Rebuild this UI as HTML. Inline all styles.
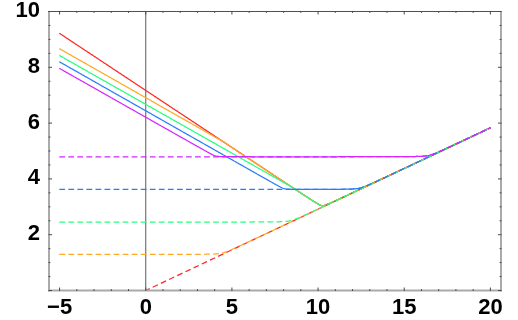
<!DOCTYPE html>
<html><head><meta charset="utf-8"><title>plot</title>
<style>
html,body{margin:0;padding:0;background:#fff;}
body{width:518px;height:320px;overflow:hidden;position:relative;}
svg{filter:blur(0.45px);}
svg text{font-family:"Liberation Sans",sans-serif;font-weight:bold;fill:#000;}
</style></head><body>
<svg width="518" height="320" viewBox="0 0 518 320" style="position:absolute;left:0;top:0">
<rect width="518" height="320" fill="#fff"/>
<clipPath id="c"><rect x="49.0" y="11.5" width="452.0" height="278.4"/></clipPath>
<line x1="145.75" y1="11.50" x2="145.75" y2="290.50" stroke="#5a5a5a" stroke-width="1"/>
<g clip-path="url(#c)" fill="none" stroke-width="1.25" stroke-linejoin="round">
<path d="M59.3 33.19L60.0 33.64L60.6 34.08L61.3 34.53L62.0 34.98L62.7 35.42L63.3 35.87L64.0 36.32L64.7 36.76L65.4 37.21L66.0 37.66L66.7 38.10L67.4 38.55L68.1 39.00L68.7 39.44L69.4 39.89L70.1 40.34L70.8 40.78L71.4 41.23L72.1 41.68L72.8 42.12L73.5 42.57L74.1 43.02L74.8 43.46L75.5 43.91L76.2 44.36L76.8 44.80L77.5 45.25L78.2 45.69L78.9 46.14L79.5 46.59L80.2 47.03L80.9 47.48L81.6 47.93L82.2 48.37L82.9 48.82L83.6 49.27L84.3 49.71L84.9 50.16L85.6 50.61L86.3 51.05L87.0 51.50L87.6 51.95L88.3 52.39L89.0 52.84L89.7 53.29L90.3 53.73L91.0 54.18L91.7 54.63L92.4 55.07L93.0 55.52L93.7 55.97L94.4 56.41L95.1 56.86L95.7 57.31L96.4 57.75L97.1 58.20L97.8 58.65L98.4 59.09L99.1 59.54L99.8 59.99L100.5 60.43L101.1 60.88L101.8 61.33L102.5 61.77L103.2 62.22L103.8 62.67L104.5 63.11L105.2 63.56L105.9 64.01L106.5 64.45L107.2 64.90L107.9 65.35L108.5 65.79L109.2 66.24L109.9 66.68L110.6 67.13L111.2 67.58L111.9 68.02L112.6 68.47L113.3 68.92L113.9 69.36L114.6 69.81L115.3 70.26L116.0 70.70L116.6 71.15L117.3 71.60L118.0 72.04L118.7 72.49L119.3 72.94L120.0 73.38L120.7 73.83L121.4 74.28L122.0 74.72L122.7 75.17L123.4 75.62L124.1 76.06L124.7 76.51L125.4 76.96L126.1 77.40L126.8 77.85L127.4 78.30L128.1 78.74L128.8 79.19L129.5 79.64L130.1 80.08L130.8 80.53L131.5 80.98L132.2 81.42L132.8 81.87L133.5 82.32L134.2 82.76L134.9 83.21L135.5 83.66L136.2 84.10L136.9 84.55L137.6 85.00L138.2 85.44L138.9 85.89L139.6 86.33L140.3 86.78L140.9 87.23L141.6 87.67L142.3 88.12L143.0 88.57L143.6 89.01L144.3 89.46L145.0 89.91L145.7 90.35L146.3 90.80L147.0 91.25L147.7 91.69L148.4 92.14L149.0 92.59L149.7 93.03L150.4 93.48L151.1 93.93L151.7 94.37L152.4 94.82L153.1 95.27L153.8 95.71L154.4 96.16L155.1 96.61L155.8 97.05L156.4 97.50L157.1 97.95L157.8 98.39L158.5 98.84L159.1 99.29L159.8 99.73L160.5 100.18L161.2 100.63L161.8 101.07L162.5 101.52L163.2 101.96L163.9 102.41L164.5 102.86L165.2 103.30L165.9 103.75L166.6 104.20L167.2 104.64L167.9 105.09L168.6 105.54L169.3 105.98L169.9 106.43L170.6 106.88L171.3 107.32L172.0 107.77L172.6 108.22L173.3 108.66L174.0 109.11L174.7 109.56L175.3 110.00L176.0 110.45L176.7 110.90L177.4 111.34L178.0 111.79L178.7 112.24L179.4 112.68L180.1 113.13L180.7 113.58L181.4 114.02L182.1 114.47L182.8 114.91L183.4 115.36L184.1 115.81L184.8 116.25L185.5 116.70L186.1 117.15L186.8 117.59L187.5 118.04L188.2 118.49L188.8 118.93L189.5 119.38L190.2 119.83L190.9 120.27L191.5 120.72L192.2 121.17L192.9 121.61L193.6 122.06L194.2 122.51L194.9 122.95L195.6 123.40L196.3 123.85L196.9 124.29L197.6 124.74L198.3 125.18L199.0 125.63L199.6 126.08L200.3 126.52L201.0 126.97L201.7 127.42L202.3 127.86L203.0 128.31L203.7 128.76L204.3 129.20L205.0 129.65L205.7 130.10L206.4 130.54L207.0 130.99L207.7 131.44L208.4 131.88L209.1 132.33L209.7 132.78L210.4 133.22L211.1 133.67L211.8 134.11L212.4 134.56L213.1 135.01L213.8 135.45L214.5 135.90L215.1 136.35L215.8 136.79L216.5 137.24L217.2 137.69L217.8 138.13L218.5 138.58L219.2 139.03L219.9 139.47L220.5 139.92L221.2 140.37L221.9 140.81L222.6 141.26L223.2 141.71L223.9 142.15L224.6 142.60L225.3 143.04L225.9 143.49L226.6 143.94L227.3 144.38L228.0 144.83L228.6 145.28L229.3 145.72L230.0 146.17L230.7 146.62L231.3 147.06L232.0 147.51L232.7 147.96L233.4 148.40L234.0 148.85L234.7 149.29L235.4 149.74L236.1 150.19L236.7 150.63L237.4 151.08L238.1 151.53L238.8 151.97L239.4 152.42L240.1 152.87L240.8 153.31L241.5 153.76L242.1 154.20L242.8 154.65L243.5 155.10L244.2 155.54L244.8 155.99L245.5 156.44L246.2 156.88L246.9 157.33L247.5 157.78L248.2 158.22L248.9 158.67L249.6 159.11L250.2 159.56L250.9 160.01L251.6 160.45L252.2 160.90L252.9 161.35L253.6 161.79L254.3 162.24L254.9 162.69L255.6 163.13L256.3 163.58L257.0 164.02L257.6 164.47L258.3 164.92L259.0 165.36L259.7 165.81L260.3 166.26L261.0 166.70L261.7 167.15L262.4 167.59L263.0 168.04L263.7 168.49L264.4 168.93L265.1 169.38L265.7 169.82L266.4 170.27L267.1 170.72L267.8 171.16L268.4 171.61L269.1 172.06L269.8 172.50L270.5 172.95L271.1 173.39L271.8 173.84L272.5 174.29L273.2 174.73L273.8 175.18L274.5 175.62L275.2 176.07L275.9 176.52L276.5 176.96L277.2 177.41L277.9 177.85L278.6 178.30L279.2 178.74L279.9 179.19L280.6 179.64L281.3 180.08L281.9 180.53L282.6 180.97L283.3 181.42L284.0 181.86L284.6 182.31L285.3 182.76L286.0 183.20L286.7 183.65L287.3 184.09L288.0 184.54L288.7 184.98L289.4 185.43L290.0 185.87L290.7 186.32L291.4 186.76L292.1 187.21L292.7 187.65L293.4 188.10L294.1 188.54L294.8 188.99L295.4 189.43L296.1 189.88L296.8 190.32L297.5 190.76L298.1 191.21L298.8 191.65L299.5 192.10L300.1 192.54L300.8 192.98L301.5 193.43L302.2 193.87L302.8 194.31L303.5 194.75L304.2 195.20L304.9 195.64L305.5 196.08L306.2 196.52L306.9 196.96L307.6 197.40L308.2 197.84L308.9 198.28L309.6 198.72L310.3 199.15L310.9 199.59L311.6 200.02L312.3 200.46L313.0 200.89L313.6 201.32L314.3 201.74L315.0 202.16L315.7 202.58L316.3 202.99L317.0 203.40L317.7 203.79L318.4 204.17L319.0 204.53L319.7 204.86L320.4 205.16L321.1 205.39L321.7 205.56L322.4 205.63L323.1 205.62L323.8 205.53L324.4 205.38L325.1 205.18L325.8 204.96L326.5 204.71L327.1 204.45L327.8 204.17L328.5 203.89L329.2 203.60L329.8 203.31L330.5 203.02L331.2 202.72L331.9 202.41L332.5 202.11L333.2 201.80L333.9 201.50L334.6 201.19L335.2 200.88L335.9 200.57L336.6 200.26L337.3 199.95L337.9 199.63L338.6 199.32L339.3 199.01L340.0 198.70L340.6 198.38L341.3 198.07L342.0 197.75L342.7 197.44L343.3 197.12L344.0 196.81L344.7 196.49L345.4 196.18L346.0 195.86L346.7 195.55L347.4 195.23L348.0 194.91L348.7 194.60L349.4 194.28L350.1 193.97L350.7 193.65L351.4 193.33L352.1 193.02L352.8 192.70L353.4 192.38L354.1 192.07L354.8 191.75L355.5 191.43L356.1 191.12L356.8 190.80L357.5 190.48L358.2 190.16L358.8 189.85L359.5 189.53L360.2 189.21L360.9 188.90L361.5 188.58L362.2 188.26L362.9 187.94L363.6 187.63L364.2 187.31L364.9 186.99L365.6 186.67L366.3 186.36L366.9 186.04L367.6 185.72L368.3 185.40L369.0 185.08L369.6 184.77L370.3 184.45L371.0 184.13L371.7 183.81L372.3 183.50L373.0 183.18L373.7 182.86L374.4 182.54L375.0 182.23L375.7 181.91L376.4 181.59L377.1 181.27L377.7 180.95L378.4 180.64L379.1 180.32L379.8 180.00L380.4 179.68L381.1 179.36L381.8 179.05L382.5 178.73L383.1 178.41L383.8 178.09L384.5 177.77L385.2 177.46L385.8 177.14L386.5 176.82L387.2 176.50L387.9 176.18L388.5 175.87L389.2 175.55L389.9 175.23L390.6 174.91L391.2 174.59L391.9 174.28L392.6 173.96L393.3 173.64L393.9 173.32L394.6 173.00L395.3 172.69L395.9 172.37L396.6 172.05L397.3 171.73L398.0 171.41L398.6 171.10L399.3 170.78L400.0 170.46L400.7 170.14L401.3 169.82L402.0 169.51L402.7 169.19L403.4 168.87L404.0 168.55L404.7 168.23L405.4 167.91L406.1 167.60L406.7 167.28L407.4 166.96L408.1 166.64L408.8 166.32L409.4 166.01L410.1 165.69L410.8 165.37L411.5 165.05L412.1 164.73L412.8 164.41L413.5 164.10L414.2 163.78L414.8 163.46L415.5 163.14L416.2 162.82L416.9 162.51L417.5 162.19L418.2 161.87L418.9 161.55L419.6 161.23L420.2 160.91L420.9 160.60L421.6 160.28L422.3 159.96L422.9 159.64L423.6 159.32L424.3 159.01L425.0 158.69L425.6 158.37L426.3 158.05L427.0 157.73L427.7 157.41L428.3 157.10L429.0 156.78L429.7 156.46L430.4 156.14L431.0 155.82L431.7 155.50L432.4 155.19L433.1 154.87L433.7 154.55L434.4 154.23L435.1 153.91L435.8 153.60L436.4 153.28L437.1 152.96L437.8 152.64L438.5 152.32L439.1 152.00L439.8 151.69L440.5 151.37L441.2 151.05L441.8 150.73L442.5 150.41L443.2 150.09L443.8 149.78L444.5 149.46L445.2 149.14L445.9 148.82L446.5 148.50L447.2 148.18L447.9 147.87L448.6 147.55L449.2 147.23L449.9 146.91L450.6 146.59L451.3 146.27L451.9 145.96L452.6 145.64L453.3 145.32L454.0 145.00L454.6 144.68L455.3 144.37L456.0 144.05L456.7 143.73L457.3 143.41L458.0 143.09L458.7 142.77L459.4 142.46L460.0 142.14L460.7 141.82L461.4 141.50L462.1 141.18L462.7 140.86L463.4 140.55L464.1 140.23L464.8 139.91L465.4 139.59L466.1 139.27L466.8 138.95L467.5 138.64L468.1 138.32L468.8 138.00L469.5 137.68L470.2 137.36L470.8 137.04L471.5 136.73L472.2 136.41L472.9 136.09L473.5 135.77L474.2 135.45L474.9 135.13L475.6 134.82L476.2 134.50L476.9 134.18L477.6 133.86L478.3 133.54L478.9 133.22L479.6 132.91L480.3 132.59L481.0 132.27L481.6 131.95L482.3 131.63L483.0 131.31L483.7 131.00L484.3 130.68L485.0 130.36L485.7 130.04L486.4 129.72L487.0 129.40L487.7 129.09L488.4 128.77L489.1 128.45L489.7 128.13L490.4 127.81" stroke="#ff2626"/>
<path d="M59.3 48.59L60.0 48.97L60.6 49.35L61.3 49.74L62.0 50.12L62.7 50.50L63.3 50.89L64.0 51.27L64.7 51.65L65.4 52.04L66.0 52.42L66.7 52.80L67.4 53.19L68.1 53.57L68.7 53.95L69.4 54.34L70.1 54.72L70.8 55.10L71.4 55.49L72.1 55.87L72.8 56.25L73.5 56.63L74.1 57.02L74.8 57.40L75.5 57.78L76.2 58.17L76.8 58.55L77.5 58.93L78.2 59.32L78.9 59.70L79.5 60.08L80.2 60.47L80.9 60.85L81.6 61.23L82.2 61.62L82.9 62.00L83.6 62.38L84.3 62.77L84.9 63.15L85.6 63.53L86.3 63.92L87.0 64.30L87.6 64.68L88.3 65.06L89.0 65.45L89.7 65.83L90.3 66.21L91.0 66.60L91.7 66.98L92.4 67.36L93.0 67.75L93.7 68.13L94.4 68.51L95.1 68.90L95.7 69.28L96.4 69.66L97.1 70.05L97.8 70.43L98.4 70.81L99.1 71.20L99.8 71.58L100.5 71.96L101.1 72.35L101.8 72.73L102.5 73.11L103.2 73.49L103.8 73.88L104.5 74.26L105.2 74.64L105.9 75.03L106.5 75.41L107.2 75.79L107.9 76.18L108.5 76.56L109.2 76.94L109.9 77.33L110.6 77.71L111.2 78.09L111.9 78.48L112.6 78.86L113.3 79.24L113.9 79.63L114.6 80.01L115.3 80.39L116.0 80.78L116.6 81.16L117.3 81.54L118.0 81.92L118.7 82.31L119.3 82.69L120.0 83.07L120.7 83.46L121.4 83.84L122.0 84.22L122.7 84.61L123.4 84.99L124.1 85.37L124.7 85.76L125.4 86.14L126.1 86.52L126.8 86.91L127.4 87.29L128.1 87.67L128.8 88.06L129.5 88.44L130.1 88.82L130.8 89.20L131.5 89.59L132.2 89.97L132.8 90.35L133.5 90.74L134.2 91.12L134.9 91.50L135.5 91.89L136.2 92.27L136.9 92.65L137.6 93.04L138.2 93.42L138.9 93.80L139.6 94.19L140.3 94.57L140.9 94.95L141.6 95.34L142.3 95.72L143.0 96.10L143.6 96.49L144.3 96.87L145.0 97.25L145.7 97.63L146.3 98.02L147.0 98.40L147.7 98.78L148.4 99.17L149.0 99.55L149.7 99.93L150.4 100.32L151.1 100.70L151.7 101.08L152.4 101.47L153.1 101.85L153.8 102.23L154.4 102.62L155.1 103.00L155.8 103.38L156.4 103.77L157.1 104.15L157.8 104.53L158.5 104.91L159.1 105.30L159.8 105.68L160.5 106.06L161.2 106.45L161.8 106.83L162.5 107.21L163.2 107.60L163.9 107.98L164.5 108.36L165.2 108.75L165.9 109.13L166.6 109.51L167.2 109.90L167.9 110.28L168.6 110.66L169.3 111.05L169.9 111.43L170.6 111.81L171.3 112.20L172.0 112.58L172.6 112.96L173.3 113.34L174.0 113.73L174.7 114.11L175.3 114.49L176.0 114.88L176.7 115.26L177.4 115.64L178.0 116.03L178.7 116.41L179.4 116.79L180.1 117.18L180.7 117.56L181.4 117.94L182.1 118.33L182.8 118.71L183.4 119.09L184.1 119.48L184.8 119.86L185.5 120.24L186.1 120.63L186.8 121.01L187.5 121.39L188.2 121.77L188.8 122.16L189.5 122.54L190.2 122.92L190.9 123.31L191.5 123.69L192.2 124.07L192.9 124.46L193.6 124.84L194.2 125.22L194.9 125.61L195.6 125.99L196.3 126.37L196.9 126.76L197.6 127.14L198.3 127.52L199.0 127.91L199.6 128.29L200.3 128.67L201.0 129.06L201.7 129.44L202.3 129.82L203.0 130.21L203.7 130.59L204.3 130.97L205.0 131.36L205.7 131.74L206.4 132.12L207.0 132.51L207.7 132.89L208.4 133.27L209.1 133.66L209.7 134.04L210.4 134.42L211.1 134.81L211.8 135.19L212.4 135.57L213.1 135.96L213.8 136.34L214.5 136.73L215.1 137.11L215.8 137.49L216.5 137.88L217.2 138.26L217.8 138.65L218.5 139.03L219.2 139.42L219.9 139.81L220.5 140.20L221.2 140.59L221.9 140.99L222.6 141.39L223.2 141.80L223.9 142.22L224.6 142.65L225.3 143.09L225.9 143.52L226.6 143.97L227.3 144.41L228.0 144.85L228.6 145.30L229.3 145.74L230.0 146.18L230.7 146.63L231.3 147.08L232.0 147.52L232.7 147.97L233.4 148.41L234.0 148.86L234.7 149.30L235.4 149.75L236.1 150.20L236.7 150.64L237.4 151.09L238.1 151.53L238.8 151.98L239.4 152.43L240.1 152.87L240.8 153.32L241.5 153.76L242.1 154.21L242.8 154.66L243.5 155.10L244.2 155.55L244.8 156.00L245.5 156.44L246.2 156.89L246.9 157.33L247.5 157.78L248.2 158.23L248.9 158.67L249.6 159.12L250.2 159.57L250.9 160.01L251.6 160.46L252.2 160.90L252.9 161.35L253.6 161.80L254.3 162.24L254.9 162.69L255.6 163.13L256.3 163.58L257.0 164.03L257.6 164.47L258.3 164.92L259.0 165.37L259.7 165.81L260.3 166.26L261.0 166.70L261.7 167.15L262.4 167.60L263.0 168.04L263.7 168.49L264.4 168.94L265.1 169.38L265.7 169.83L266.4 170.27L267.1 170.72L267.8 171.17L268.4 171.61L269.1 172.06L269.8 172.50L270.5 172.95L271.1 173.40L271.8 173.84L272.5 174.29L273.2 174.73L273.8 175.18L274.5 175.63L275.2 176.07L275.9 176.52L276.5 176.96L277.2 177.41L277.9 177.85L278.6 178.30L279.2 178.75L279.9 179.19L280.6 179.64L281.3 180.08L281.9 180.53L282.6 180.97L283.3 181.42L284.0 181.87L284.6 182.31L285.3 182.76L286.0 183.20L286.7 183.65L287.3 184.09L288.0 184.54L288.7 184.98L289.4 185.43L290.0 185.87L290.7 186.32L291.4 186.76L292.1 187.21L292.7 187.65L293.4 188.10L294.1 188.54L294.8 188.99L295.4 189.43L296.1 189.88L296.8 190.32L297.5 190.77L298.1 191.21L298.8 191.65L299.5 192.10L300.1 192.54L300.8 192.98L301.5 193.43L302.2 193.87L302.8 194.31L303.5 194.76L304.2 195.20L304.9 195.64L305.5 196.08L306.2 196.52L306.9 196.96L307.6 197.40L308.2 197.84L308.9 198.28L309.6 198.72L310.3 199.16L310.9 199.59L311.6 200.03L312.3 200.46L313.0 200.89L313.6 201.32L314.3 201.74L315.0 202.16L315.7 202.58L316.3 202.99L317.0 203.40L317.7 203.79L318.4 204.17L319.0 204.53L319.7 204.86L320.4 205.15L321.1 205.39L321.7 205.55L322.4 205.62L323.1 205.61L323.8 205.52L324.4 205.36L325.1 205.17L325.8 204.94L326.5 204.69L327.1 204.43L327.8 204.16L328.5 203.88L329.2 203.59L329.8 203.30L330.5 203.00L331.2 202.70L331.9 202.40L332.5 202.09L333.2 201.79L333.9 201.48L334.6 201.17L335.2 200.86L335.9 200.55L336.6 200.24L337.3 199.93L337.9 199.62L338.6 199.31L339.3 199.00L340.0 198.68L340.6 198.37L341.3 198.05L342.0 197.74L342.7 197.43L343.3 197.11L344.0 196.80L344.7 196.48L345.4 196.17L346.0 195.85L346.7 195.53L347.4 195.22L348.0 194.90L348.7 194.59L349.4 194.27L350.1 193.95L350.7 193.64L351.4 193.32L352.1 193.00L352.8 192.69L353.4 192.37L354.1 192.05L354.8 191.74L355.5 191.42L356.1 191.10L356.8 190.79L357.5 190.47L358.2 190.15L358.8 189.84L359.5 189.52L360.2 189.20L360.9 188.88L361.5 188.57L362.2 188.25L362.9 187.93L363.6 187.62L364.2 187.30L364.9 186.98L365.6 186.66L366.3 186.35L366.9 186.03L367.6 185.71L368.3 185.39L369.0 185.08L369.6 184.76L370.3 184.44L371.0 184.12L371.7 183.80L372.3 183.49L373.0 183.17L373.7 182.85L374.4 182.53L375.0 182.22L375.7 181.90L376.4 181.58L377.1 181.26L377.7 180.95L378.4 180.63L379.1 180.31L379.8 179.99L380.4 179.67L381.1 179.36L381.8 179.04L382.5 178.72L383.1 178.40L383.8 178.08L384.5 177.77L385.2 177.45L385.8 177.13L386.5 176.81L387.2 176.49L387.9 176.18L388.5 175.86L389.2 175.54L389.9 175.22L390.6 174.91L391.2 174.59L391.9 174.27L392.6 173.95L393.3 173.63L393.9 173.32L394.6 173.00L395.3 172.68L395.9 172.36L396.6 172.04L397.3 171.72L398.0 171.41L398.6 171.09L399.3 170.77L400.0 170.45L400.7 170.13L401.3 169.82L402.0 169.50L402.7 169.18L403.4 168.86L404.0 168.54L404.7 168.23L405.4 167.91L406.1 167.59L406.7 167.27L407.4 166.95L408.1 166.64L408.8 166.32L409.4 166.00L410.1 165.68L410.8 165.36L411.5 165.04L412.1 164.73L412.8 164.41L413.5 164.09L414.2 163.77L414.8 163.45L415.5 163.14L416.2 162.82L416.9 162.50L417.5 162.18L418.2 161.86L418.9 161.55L419.6 161.23L420.2 160.91L420.9 160.59L421.6 160.27L422.3 159.95L422.9 159.64L423.6 159.32L424.3 159.00L425.0 158.68L425.6 158.36L426.3 158.05L427.0 157.73L427.7 157.41L428.3 157.09L429.0 156.77L429.7 156.45L430.4 156.14L431.0 155.82L431.7 155.50L432.4 155.18L433.1 154.86L433.7 154.54L434.4 154.23L435.1 153.91L435.8 153.59L436.4 153.27L437.1 152.95L437.8 152.64L438.5 152.32L439.1 152.00L439.8 151.68L440.5 151.36L441.2 151.04L441.8 150.73L442.5 150.41L443.2 150.09L443.8 149.77L444.5 149.45L445.2 149.13L445.9 148.82L446.5 148.50L447.2 148.18L447.9 147.86L448.6 147.54L449.2 147.23L449.9 146.91L450.6 146.59L451.3 146.27L451.9 145.95L452.6 145.63L453.3 145.32L454.0 145.00L454.6 144.68L455.3 144.36L456.0 144.04L456.7 143.72L457.3 143.41L458.0 143.09L458.7 142.77L459.4 142.45L460.0 142.13L460.7 141.81L461.4 141.50L462.1 141.18L462.7 140.86L463.4 140.54L464.1 140.22L464.8 139.90L465.4 139.59L466.1 139.27L466.8 138.95L467.5 138.63L468.1 138.31L468.8 138.00L469.5 137.68L470.2 137.36L470.8 137.04L471.5 136.72L472.2 136.40L472.9 136.09L473.5 135.77L474.2 135.45L474.9 135.13L475.6 134.81L476.2 134.49L476.9 134.18L477.6 133.86L478.3 133.54L478.9 133.22L479.6 132.90L480.3 132.58L481.0 132.27L481.6 131.95L482.3 131.63L483.0 131.31L483.7 130.99L484.3 130.67L485.0 130.36L485.7 130.04L486.4 129.72L487.0 129.40L487.7 129.08L488.4 128.76L489.1 128.45L489.7 128.13L490.4 127.81" stroke="#ffa826"/>
<path d="M59.3 55.39L60.0 55.77L60.6 56.15L61.3 56.53L62.0 56.91L62.7 57.30L63.3 57.68L64.0 58.06L64.7 58.44L65.4 58.82L66.0 59.21L66.7 59.59L67.4 59.97L68.1 60.35L68.7 60.74L69.4 61.12L70.1 61.50L70.8 61.88L71.4 62.26L72.1 62.65L72.8 63.03L73.5 63.41L74.1 63.79L74.8 64.17L75.5 64.56L76.2 64.94L76.8 65.32L77.5 65.70L78.2 66.09L78.9 66.47L79.5 66.85L80.2 67.23L80.9 67.61L81.6 68.00L82.2 68.38L82.9 68.76L83.6 69.14L84.3 69.52L84.9 69.91L85.6 70.29L86.3 70.67L87.0 71.05L87.6 71.44L88.3 71.82L89.0 72.20L89.7 72.58L90.3 72.96L91.0 73.35L91.7 73.73L92.4 74.11L93.0 74.49L93.7 74.87L94.4 75.26L95.1 75.64L95.7 76.02L96.4 76.40L97.1 76.79L97.8 77.17L98.4 77.55L99.1 77.93L99.8 78.31L100.5 78.70L101.1 79.08L101.8 79.46L102.5 79.84L103.2 80.22L103.8 80.61L104.5 80.99L105.2 81.37L105.9 81.75L106.5 82.14L107.2 82.52L107.9 82.90L108.5 83.28L109.2 83.66L109.9 84.05L110.6 84.43L111.2 84.81L111.9 85.19L112.6 85.57L113.3 85.96L113.9 86.34L114.6 86.72L115.3 87.10L116.0 87.49L116.6 87.87L117.3 88.25L118.0 88.63L118.7 89.01L119.3 89.40L120.0 89.78L120.7 90.16L121.4 90.54L122.0 90.92L122.7 91.31L123.4 91.69L124.1 92.07L124.7 92.45L125.4 92.84L126.1 93.22L126.8 93.60L127.4 93.98L128.1 94.36L128.8 94.75L129.5 95.13L130.1 95.51L130.8 95.89L131.5 96.27L132.2 96.66L132.8 97.04L133.5 97.42L134.2 97.80L134.9 98.19L135.5 98.57L136.2 98.95L136.9 99.33L137.6 99.71L138.2 100.10L138.9 100.48L139.6 100.86L140.3 101.24L140.9 101.62L141.6 102.01L142.3 102.39L143.0 102.77L143.6 103.15L144.3 103.53L145.0 103.92L145.7 104.30L146.3 104.68L147.0 105.06L147.7 105.45L148.4 105.83L149.0 106.21L149.7 106.59L150.4 106.97L151.1 107.36L151.7 107.74L152.4 108.12L153.1 108.50L153.8 108.88L154.4 109.27L155.1 109.65L155.8 110.03L156.4 110.41L157.1 110.80L157.8 111.18L158.5 111.56L159.1 111.94L159.8 112.32L160.5 112.71L161.2 113.09L161.8 113.47L162.5 113.85L163.2 114.23L163.9 114.62L164.5 115.00L165.2 115.38L165.9 115.76L166.6 116.14L167.2 116.53L167.9 116.91L168.6 117.29L169.3 117.67L169.9 118.06L170.6 118.44L171.3 118.82L172.0 119.20L172.6 119.58L173.3 119.97L174.0 120.35L174.7 120.73L175.3 121.11L176.0 121.49L176.7 121.88L177.4 122.26L178.0 122.64L178.7 123.02L179.4 123.40L180.1 123.79L180.7 124.17L181.4 124.55L182.1 124.93L182.8 125.31L183.4 125.70L184.1 126.08L184.8 126.46L185.5 126.84L186.1 127.23L186.8 127.61L187.5 127.99L188.2 128.37L188.8 128.75L189.5 129.14L190.2 129.52L190.9 129.90L191.5 130.28L192.2 130.66L192.9 131.05L193.6 131.43L194.2 131.81L194.9 132.19L195.6 132.57L196.3 132.96L196.9 133.34L197.6 133.72L198.3 134.10L199.0 134.48L199.6 134.87L200.3 135.25L201.0 135.63L201.7 136.01L202.3 136.40L203.0 136.78L203.7 137.16L204.3 137.54L205.0 137.92L205.7 138.31L206.4 138.69L207.0 139.07L207.7 139.45L208.4 139.83L209.1 140.22L209.7 140.60L210.4 140.98L211.1 141.36L211.8 141.74L212.4 142.13L213.1 142.51L213.8 142.89L214.5 143.27L215.1 143.65L215.8 144.04L216.5 144.42L217.2 144.80L217.8 145.18L218.5 145.56L219.2 145.95L219.9 146.33L220.5 146.71L221.2 147.09L221.9 147.47L222.6 147.86L223.2 148.24L223.9 148.62L224.6 149.00L225.3 149.38L225.9 149.77L226.6 150.15L227.3 150.53L228.0 150.91L228.6 151.29L229.3 151.68L230.0 152.06L230.7 152.44L231.3 152.82L232.0 153.20L232.7 153.59L233.4 153.97L234.0 154.35L234.7 154.73L235.4 155.11L236.1 155.50L236.7 155.88L237.4 156.26L238.1 156.64L238.8 157.02L239.4 157.41L240.1 157.79L240.8 158.17L241.5 158.55L242.1 158.93L242.8 159.32L243.5 159.70L244.2 160.08L244.8 160.46L245.5 160.84L246.2 161.23L246.9 161.61L247.5 161.99L248.2 162.37L248.9 162.75L249.6 163.14L250.2 163.52L250.9 163.90L251.6 164.28L252.2 164.66L252.9 165.05L253.6 165.43L254.3 165.81L254.9 166.19L255.6 166.57L256.3 166.96L257.0 167.34L257.6 167.72L258.3 168.10L259.0 168.48L259.7 168.86L260.3 169.25L261.0 169.63L261.7 170.01L262.4 170.39L263.0 170.77L263.7 171.16L264.4 171.54L265.1 171.92L265.7 172.30L266.4 172.68L267.1 173.07L267.8 173.45L268.4 173.83L269.1 174.21L269.8 174.59L270.5 174.98L271.1 175.36L271.8 175.74L272.5 176.12L273.2 176.50L273.8 176.88L274.5 177.27L275.2 177.65L275.9 178.03L276.5 178.41L277.2 178.79L277.9 179.18L278.6 179.56L279.2 179.94L279.9 180.32L280.6 180.70L281.3 181.09L281.9 181.47L282.6 181.85L283.3 182.23L284.0 182.62L284.6 183.00L285.3 183.38L286.0 183.76L286.7 184.15L287.3 184.53L288.0 184.92L288.7 185.30L289.4 185.69L290.0 186.08L290.7 186.48L291.4 186.88L292.1 187.29L292.7 187.71L293.4 188.14L294.1 188.58L294.8 189.02L295.4 189.46L296.1 189.90L296.8 190.34L297.5 190.78L298.1 191.22L298.8 191.67L299.5 192.11L300.1 192.55L300.8 192.99L301.5 193.44L302.2 193.88L302.8 194.32L303.5 194.76L304.2 195.20L304.9 195.65L305.5 196.09L306.2 196.53L306.9 196.97L307.6 197.41L308.2 197.85L308.9 198.28L309.6 198.72L310.3 199.16L310.9 199.59L311.6 200.03L312.3 200.46L313.0 200.89L313.6 201.32L314.3 201.74L315.0 202.16L315.7 202.58L316.3 202.99L317.0 203.39L317.7 203.79L318.4 204.16L319.0 204.52L319.7 204.85L320.4 205.13L321.1 205.36L321.7 205.51L322.4 205.58L323.1 205.55L323.8 205.45L324.4 205.30L325.1 205.10L325.8 204.87L326.5 204.63L327.1 204.36L327.8 204.09L328.5 203.81L329.2 203.52L329.8 203.23L330.5 202.94L331.2 202.64L331.9 202.34L332.5 202.03L333.2 201.73L333.9 201.42L334.6 201.12L335.2 200.81L335.9 200.50L336.6 200.19L337.3 199.88L337.9 199.57L338.6 199.26L339.3 198.95L340.0 198.63L340.6 198.32L341.3 198.01L342.0 197.69L342.7 197.38L343.3 197.07L344.0 196.75L344.7 196.44L345.4 196.12L346.0 195.81L346.7 195.49L347.4 195.18L348.0 194.86L348.7 194.55L349.4 194.23L350.1 193.92L350.7 193.60L351.4 193.29L352.1 192.97L352.8 192.65L353.4 192.34L354.1 192.02L354.8 191.70L355.5 191.39L356.1 191.07L356.8 190.76L357.5 190.44L358.2 190.12L358.8 189.81L359.5 189.49L360.2 189.17L360.9 188.86L361.5 188.54L362.2 188.22L362.9 187.90L363.6 187.59L364.2 187.27L364.9 186.95L365.6 186.64L366.3 186.32L366.9 186.00L367.6 185.69L368.3 185.37L369.0 185.05L369.6 184.73L370.3 184.42L371.0 184.10L371.7 183.78L372.3 183.46L373.0 183.15L373.7 182.83L374.4 182.51L375.0 182.19L375.7 181.88L376.4 181.56L377.1 181.24L377.7 180.92L378.4 180.61L379.1 180.29L379.8 179.97L380.4 179.65L381.1 179.34L381.8 179.02L382.5 178.70L383.1 178.38L383.8 178.07L384.5 177.75L385.2 177.43L385.8 177.11L386.5 176.79L387.2 176.48L387.9 176.16L388.5 175.84L389.2 175.52L389.9 175.21L390.6 174.89L391.2 174.57L391.9 174.25L392.6 173.93L393.3 173.62L393.9 173.30L394.6 172.98L395.3 172.66L395.9 172.35L396.6 172.03L397.3 171.71L398.0 171.39L398.6 171.07L399.3 170.76L400.0 170.44L400.7 170.12L401.3 169.80L402.0 169.48L402.7 169.17L403.4 168.85L404.0 168.53L404.7 168.21L405.4 167.89L406.1 167.58L406.7 167.26L407.4 166.94L408.1 166.62L408.8 166.30L409.4 165.99L410.1 165.67L410.8 165.35L411.5 165.03L412.1 164.71L412.8 164.40L413.5 164.08L414.2 163.76L414.8 163.44L415.5 163.12L416.2 162.81L416.9 162.49L417.5 162.17L418.2 161.85L418.9 161.53L419.6 161.22L420.2 160.90L420.9 160.58L421.6 160.26L422.3 159.94L422.9 159.63L423.6 159.31L424.3 158.99L425.0 158.67L425.6 158.35L426.3 158.03L427.0 157.72L427.7 157.40L428.3 157.08L429.0 156.76L429.7 156.44L430.4 156.13L431.0 155.81L431.7 155.49L432.4 155.17L433.1 154.85L433.7 154.54L434.4 154.22L435.1 153.90L435.8 153.58L436.4 153.26L437.1 152.94L437.8 152.63L438.5 152.31L439.1 151.99L439.8 151.67L440.5 151.35L441.2 151.04L441.8 150.72L442.5 150.40L443.2 150.08L443.8 149.76L444.5 149.44L445.2 149.13L445.9 148.81L446.5 148.49L447.2 148.17L447.9 147.85L448.6 147.54L449.2 147.22L449.9 146.90L450.6 146.58L451.3 146.26L451.9 145.94L452.6 145.63L453.3 145.31L454.0 144.99L454.6 144.67L455.3 144.35L456.0 144.04L456.7 143.72L457.3 143.40L458.0 143.08L458.7 142.76L459.4 142.44L460.0 142.13L460.7 141.81L461.4 141.49L462.1 141.17L462.7 140.85L463.4 140.53L464.1 140.22L464.8 139.90L465.4 139.58L466.1 139.26L466.8 138.94L467.5 138.63L468.1 138.31L468.8 137.99L469.5 137.67L470.2 137.35L470.8 137.03L471.5 136.72L472.2 136.40L472.9 136.08L473.5 135.76L474.2 135.44L474.9 135.12L475.6 134.81L476.2 134.49L476.9 134.17L477.6 133.85L478.3 133.53L478.9 133.21L479.6 132.90L480.3 132.58L481.0 132.26L481.6 131.94L482.3 131.62L483.0 131.31L483.7 130.99L484.3 130.67L485.0 130.35L485.7 130.03L486.4 129.71L487.0 129.40L487.7 129.08L488.4 128.76L489.1 128.44L489.7 128.12L490.4 127.80" stroke="#26ff7d"/>
<path d="M59.3 61.70L60.0 62.08L60.6 62.46L61.3 62.84L62.0 63.23L62.7 63.61L63.3 63.99L64.0 64.38L64.7 64.76L65.4 65.14L66.0 65.53L66.7 65.91L67.4 66.29L68.1 66.68L68.7 67.06L69.4 67.44L70.1 67.83L70.8 68.21L71.4 68.59L72.1 68.98L72.8 69.36L73.5 69.74L74.1 70.13L74.8 70.51L75.5 70.89L76.2 71.27L76.8 71.66L77.5 72.04L78.2 72.42L78.9 72.81L79.5 73.19L80.2 73.57L80.9 73.96L81.6 74.34L82.2 74.72L82.9 75.11L83.6 75.49L84.3 75.87L84.9 76.26L85.6 76.64L86.3 77.02L87.0 77.41L87.6 77.79L88.3 78.17L89.0 78.56L89.7 78.94L90.3 79.32L91.0 79.70L91.7 80.09L92.4 80.47L93.0 80.85L93.7 81.24L94.4 81.62L95.1 82.00L95.7 82.39L96.4 82.77L97.1 83.15L97.8 83.54L98.4 83.92L99.1 84.30L99.8 84.69L100.5 85.07L101.1 85.45L101.8 85.84L102.5 86.22L103.2 86.60L103.8 86.99L104.5 87.37L105.2 87.75L105.9 88.13L106.5 88.52L107.2 88.90L107.9 89.28L108.5 89.67L109.2 90.05L109.9 90.43L110.6 90.82L111.2 91.20L111.9 91.58L112.6 91.97L113.3 92.35L113.9 92.73L114.6 93.12L115.3 93.50L116.0 93.88L116.6 94.27L117.3 94.65L118.0 95.03L118.7 95.42L119.3 95.80L120.0 96.18L120.7 96.56L121.4 96.95L122.0 97.33L122.7 97.71L123.4 98.10L124.1 98.48L124.7 98.86L125.4 99.25L126.1 99.63L126.8 100.01L127.4 100.40L128.1 100.78L128.8 101.16L129.5 101.55L130.1 101.93L130.8 102.31L131.5 102.70L132.2 103.08L132.8 103.46L133.5 103.84L134.2 104.23L134.9 104.61L135.5 104.99L136.2 105.38L136.9 105.76L137.6 106.14L138.2 106.53L138.9 106.91L139.6 107.29L140.3 107.68L140.9 108.06L141.6 108.44L142.3 108.83L143.0 109.21L143.6 109.59L144.3 109.98L145.0 110.36L145.7 110.74L146.3 111.13L147.0 111.51L147.7 111.89L148.4 112.27L149.0 112.66L149.7 113.04L150.4 113.42L151.1 113.81L151.7 114.19L152.4 114.57L153.1 114.96L153.8 115.34L154.4 115.72L155.1 116.11L155.8 116.49L156.4 116.87L157.1 117.26L157.8 117.64L158.5 118.02L159.1 118.41L159.8 118.79L160.5 119.17L161.2 119.55L161.8 119.94L162.5 120.32L163.2 120.70L163.9 121.09L164.5 121.47L165.2 121.85L165.9 122.24L166.6 122.62L167.2 123.00L167.9 123.39L168.6 123.77L169.3 124.15L169.9 124.54L170.6 124.92L171.3 125.30L172.0 125.68L172.6 126.07L173.3 126.45L174.0 126.83L174.7 127.22L175.3 127.60L176.0 127.98L176.7 128.37L177.4 128.75L178.0 129.13L178.7 129.52L179.4 129.90L180.1 130.28L180.7 130.67L181.4 131.05L182.1 131.43L182.8 131.82L183.4 132.20L184.1 132.58L184.8 132.96L185.5 133.35L186.1 133.73L186.8 134.11L187.5 134.50L188.2 134.88L188.8 135.26L189.5 135.65L190.2 136.03L190.9 136.41L191.5 136.80L192.2 137.18L192.9 137.56L193.6 137.95L194.2 138.33L194.9 138.71L195.6 139.09L196.3 139.48L196.9 139.86L197.6 140.24L198.3 140.63L199.0 141.01L199.6 141.39L200.3 141.78L201.0 142.16L201.7 142.54L202.3 142.93L203.0 143.31L203.7 143.69L204.3 144.07L205.0 144.46L205.7 144.84L206.4 145.22L207.0 145.61L207.7 145.99L208.4 146.37L209.1 146.76L209.7 147.14L210.4 147.52L211.1 147.91L211.8 148.29L212.4 148.67L213.1 149.05L213.8 149.44L214.5 149.82L215.1 150.20L215.8 150.59L216.5 150.97L217.2 151.35L217.8 151.74L218.5 152.12L219.2 152.50L219.9 152.88L220.5 153.27L221.2 153.65L221.9 154.03L222.6 154.42L223.2 154.80L223.9 155.18L224.6 155.57L225.3 155.95L225.9 156.33L226.6 156.71L227.3 157.10L228.0 157.48L228.6 157.86L229.3 158.25L230.0 158.63L230.7 159.01L231.3 159.40L232.0 159.78L232.7 160.16L233.4 160.54L234.0 160.93L234.7 161.31L235.4 161.69L236.1 162.08L236.7 162.46L237.4 162.84L238.1 163.22L238.8 163.61L239.4 163.99L240.1 164.37L240.8 164.76L241.5 165.14L242.1 165.52L242.8 165.90L243.5 166.29L244.2 166.67L244.8 167.05L245.5 167.44L246.2 167.82L246.9 168.20L247.5 168.58L248.2 168.97L248.9 169.35L249.6 169.73L250.2 170.11L250.9 170.50L251.6 170.88L252.2 171.26L252.9 171.64L253.6 172.03L254.3 172.41L254.9 172.79L255.6 173.17L256.3 173.56L257.0 173.94L257.6 174.32L258.3 174.70L259.0 175.08L259.7 175.47L260.3 175.85L261.0 176.23L261.7 176.61L262.4 176.99L263.0 177.37L263.7 177.76L264.4 178.14L265.1 178.52L265.7 178.90L266.4 179.28L267.1 179.66L267.8 180.04L268.4 180.42L269.1 180.80L269.8 181.18L270.5 181.56L271.1 181.94L271.8 182.32L272.5 182.70L273.2 183.08L273.8 183.45L274.5 183.83L275.2 184.20L275.9 184.58L276.5 184.95L277.2 185.32L277.9 185.69L278.6 186.05L279.2 186.41L279.9 186.77L280.6 187.12L281.3 187.45L281.9 187.77L282.6 188.07L283.3 188.34L284.0 188.57L284.6 188.76L285.3 188.90L286.0 189.00L286.7 189.08L287.3 189.14L288.0 189.18L288.7 189.21L289.4 189.24L290.0 189.26L290.7 189.27L291.4 189.29L292.1 189.30L292.7 189.31L293.4 189.32L294.1 189.33L294.8 189.33L295.4 189.34L296.1 189.34L296.8 189.35L297.5 189.35L298.1 189.35L298.8 189.36L299.5 189.36L300.1 189.36L300.8 189.36L301.5 189.36L302.2 189.37L302.8 189.37L303.5 189.37L304.2 189.37L304.9 189.37L305.5 189.37L306.2 189.37L306.9 189.37L307.6 189.37L308.2 189.37L308.9 189.37L309.6 189.37L310.3 189.37L310.9 189.37L311.6 189.37L312.3 189.37L313.0 189.37L313.6 189.37L314.3 189.37L315.0 189.37L315.7 189.37L316.3 189.37L317.0 189.37L317.7 189.37L318.4 189.37L319.0 189.37L319.7 189.37L320.4 189.36L321.1 189.36L321.7 189.36L322.4 189.36L323.1 189.36L323.8 189.36L324.4 189.36L325.1 189.35L325.8 189.35L326.5 189.35L327.1 189.35L327.8 189.35L328.5 189.34L329.2 189.34L329.8 189.34L330.5 189.34L331.2 189.33L331.9 189.33L332.5 189.33L333.2 189.32L333.9 189.32L334.6 189.32L335.2 189.31L335.9 189.31L336.6 189.30L337.3 189.30L337.9 189.29L338.6 189.29L339.3 189.28L340.0 189.27L340.6 189.27L341.3 189.26L342.0 189.25L342.7 189.24L343.3 189.24L344.0 189.23L344.7 189.22L345.4 189.20L346.0 189.19L346.7 189.18L347.4 189.16L348.0 189.15L348.7 189.13L349.4 189.11L350.1 189.09L350.7 189.06L351.4 189.04L352.1 189.00L352.8 188.97L353.4 188.93L354.1 188.88L354.8 188.83L355.5 188.77L356.1 188.70L356.8 188.61L357.5 188.52L358.2 188.41L358.8 188.28L359.5 188.14L360.2 187.98L360.9 187.80L361.5 187.60L362.2 187.39L362.9 187.16L363.6 186.92L364.2 186.67L364.9 186.41L365.6 186.14L366.3 185.87L366.9 185.59L367.6 185.31L368.3 185.02L369.0 184.73L369.6 184.43L370.3 184.14L371.0 183.84L371.7 183.54L372.3 183.24L373.0 182.93L373.7 182.63L374.4 182.32L375.0 182.01L375.7 181.71L376.4 181.40L377.1 181.09L377.7 180.78L378.4 180.47L379.1 180.16L379.8 179.84L380.4 179.53L381.1 179.22L381.8 178.91L382.5 178.59L383.1 178.28L383.8 177.97L384.5 177.65L385.2 177.34L385.8 177.03L386.5 176.71L387.2 176.40L387.9 176.08L388.5 175.77L389.2 175.45L389.9 175.14L390.6 174.82L391.2 174.51L391.9 174.19L392.6 173.87L393.3 173.56L393.9 173.24L394.6 172.93L395.3 172.61L395.9 172.29L396.6 171.98L397.3 171.66L398.0 171.34L398.6 171.03L399.3 170.71L400.0 170.40L400.7 170.08L401.3 169.76L402.0 169.44L402.7 169.13L403.4 168.81L404.0 168.49L404.7 168.18L405.4 167.86L406.1 167.54L406.7 167.23L407.4 166.91L408.1 166.59L408.8 166.27L409.4 165.96L410.1 165.64L410.8 165.32L411.5 165.01L412.1 164.69L412.8 164.37L413.5 164.05L414.2 163.74L414.8 163.42L415.5 163.10L416.2 162.78L416.9 162.47L417.5 162.15L418.2 161.83L418.9 161.51L419.6 161.20L420.2 160.88L420.9 160.56L421.6 160.24L422.3 159.93L422.9 159.61L423.6 159.29L424.3 158.97L425.0 158.65L425.6 158.34L426.3 158.02L427.0 157.70L427.7 157.38L428.3 157.07L429.0 156.75L429.7 156.43L430.4 156.11L431.0 155.79L431.7 155.48L432.4 155.16L433.1 154.84L433.7 154.52L434.4 154.21L435.1 153.89L435.8 153.57L436.4 153.25L437.1 152.93L437.8 152.62L438.5 152.30L439.1 151.98L439.8 151.66L440.5 151.34L441.2 151.03L441.8 150.71L442.5 150.39L443.2 150.07L443.8 149.75L444.5 149.44L445.2 149.12L445.9 148.80L446.5 148.48L447.2 148.16L447.9 147.85L448.6 147.53L449.2 147.21L449.9 146.89L450.6 146.57L451.3 146.26L451.9 145.94L452.6 145.62L453.3 145.30L454.0 144.98L454.6 144.67L455.3 144.35L456.0 144.03L456.7 143.71L457.3 143.39L458.0 143.08L458.7 142.76L459.4 142.44L460.0 142.12L460.7 141.80L461.4 141.48L462.1 141.17L462.7 140.85L463.4 140.53L464.1 140.21L464.8 139.89L465.4 139.58L466.1 139.26L466.8 138.94L467.5 138.62L468.1 138.30L468.8 137.99L469.5 137.67L470.2 137.35L470.8 137.03L471.5 136.71L472.2 136.39L472.9 136.08L473.5 135.76L474.2 135.44L474.9 135.12L475.6 134.80L476.2 134.49L476.9 134.17L477.6 133.85L478.3 133.53L478.9 133.21L479.6 132.89L480.3 132.58L481.0 132.26L481.6 131.94L482.3 131.62L483.0 131.30L483.7 130.99L484.3 130.67L485.0 130.35L485.7 130.03L486.4 129.71L487.0 129.39L487.7 129.08L488.4 128.76L489.1 128.44L489.7 128.12L490.4 127.80" stroke="#267dff"/>
<path d="M59.3 68.29L60.0 68.67L60.6 69.06L61.3 69.44L62.0 69.82L62.7 70.20L63.3 70.58L64.0 70.97L64.7 71.35L65.4 71.73L66.0 72.11L66.7 72.49L67.4 72.87L68.1 73.26L68.7 73.64L69.4 74.02L70.1 74.40L70.8 74.78L71.4 75.17L72.1 75.55L72.8 75.93L73.5 76.31L74.1 76.69L74.8 77.07L75.5 77.46L76.2 77.84L76.8 78.22L77.5 78.60L78.2 78.98L78.9 79.37L79.5 79.75L80.2 80.13L80.9 80.51L81.6 80.89L82.2 81.27L82.9 81.66L83.6 82.04L84.3 82.42L84.9 82.80L85.6 83.18L86.3 83.57L87.0 83.95L87.6 84.33L88.3 84.71L89.0 85.09L89.7 85.47L90.3 85.86L91.0 86.24L91.7 86.62L92.4 87.00L93.0 87.38L93.7 87.77L94.4 88.15L95.1 88.53L95.7 88.91L96.4 89.29L97.1 89.67L97.8 90.06L98.4 90.44L99.1 90.82L99.8 91.20L100.5 91.58L101.1 91.97L101.8 92.35L102.5 92.73L103.2 93.11L103.8 93.49L104.5 93.87L105.2 94.26L105.9 94.64L106.5 95.02L107.2 95.40L107.9 95.78L108.5 96.16L109.2 96.55L109.9 96.93L110.6 97.31L111.2 97.69L111.9 98.07L112.6 98.46L113.3 98.84L113.9 99.22L114.6 99.60L115.3 99.98L116.0 100.36L116.6 100.75L117.3 101.13L118.0 101.51L118.7 101.89L119.3 102.27L120.0 102.66L120.7 103.04L121.4 103.42L122.0 103.80L122.7 104.18L123.4 104.56L124.1 104.95L124.7 105.33L125.4 105.71L126.1 106.09L126.8 106.47L127.4 106.85L128.1 107.24L128.8 107.62L129.5 108.00L130.1 108.38L130.8 108.76L131.5 109.14L132.2 109.53L132.8 109.91L133.5 110.29L134.2 110.67L134.9 111.05L135.5 111.44L136.2 111.82L136.9 112.20L137.6 112.58L138.2 112.96L138.9 113.34L139.6 113.73L140.3 114.11L140.9 114.49L141.6 114.87L142.3 115.25L143.0 115.63L143.6 116.02L144.3 116.40L145.0 116.78L145.7 117.16L146.3 117.54L147.0 117.92L147.7 118.31L148.4 118.69L149.0 119.07L149.7 119.45L150.4 119.83L151.1 120.21L151.7 120.60L152.4 120.98L153.1 121.36L153.8 121.74L154.4 122.12L155.1 122.50L155.8 122.89L156.4 123.27L157.1 123.65L157.8 124.03L158.5 124.41L159.1 124.79L159.8 125.18L160.5 125.56L161.2 125.94L161.8 126.32L162.5 126.70L163.2 127.08L163.9 127.47L164.5 127.85L165.2 128.23L165.9 128.61L166.6 128.99L167.2 129.37L167.9 129.75L168.6 130.14L169.3 130.52L169.9 130.90L170.6 131.28L171.3 131.66L172.0 132.04L172.6 132.43L173.3 132.81L174.0 133.19L174.7 133.57L175.3 133.95L176.0 134.33L176.7 134.71L177.4 135.09L178.0 135.48L178.7 135.86L179.4 136.24L180.1 136.62L180.7 137.00L181.4 137.38L182.1 137.76L182.8 138.14L183.4 138.53L184.1 138.91L184.8 139.29L185.5 139.67L186.1 140.05L186.8 140.43L187.5 140.81L188.2 141.19L188.8 141.57L189.5 141.95L190.2 142.34L190.9 142.72L191.5 143.10L192.2 143.48L192.9 143.86L193.6 144.24L194.2 144.62L194.9 145.00L195.6 145.38L196.3 145.76L196.9 146.14L197.6 146.52L198.3 146.90L199.0 147.28L199.6 147.66L200.3 148.03L201.0 148.41L201.7 148.79L202.3 149.17L203.0 149.55L203.7 149.92L204.3 150.30L205.0 150.68L205.7 151.05L206.4 151.42L207.0 151.80L207.7 152.17L208.4 152.54L209.1 152.91L209.7 153.27L210.4 153.63L211.1 153.99L211.8 154.34L212.4 154.68L213.1 155.00L213.8 155.31L214.5 155.59L215.1 155.83L215.8 156.03L216.5 156.19L217.2 156.31L217.8 156.39L218.5 156.45L219.2 156.50L219.9 156.54L220.5 156.57L221.2 156.59L221.9 156.61L222.6 156.62L223.2 156.64L223.9 156.65L224.6 156.66L225.3 156.66L225.9 156.67L226.6 156.68L227.3 156.68L228.0 156.69L228.6 156.69L229.3 156.70L230.0 156.70L230.7 156.70L231.3 156.71L232.0 156.71L232.7 156.71L233.4 156.72L234.0 156.72L234.7 156.72L235.4 156.72L236.1 156.72L236.7 156.73L237.4 156.73L238.1 156.73L238.8 156.73L239.4 156.73L240.1 156.73L240.8 156.73L241.5 156.73L242.1 156.74L242.8 156.74L243.5 156.74L244.2 156.74L244.8 156.74L245.5 156.74L246.2 156.74L246.9 156.74L247.5 156.74L248.2 156.74L248.9 156.74L249.6 156.74L250.2 156.74L250.9 156.74L251.6 156.75L252.2 156.75L252.9 156.75L253.6 156.75L254.3 156.75L254.9 156.75L255.6 156.75L256.3 156.75L257.0 156.75L257.6 156.75L258.3 156.75L259.0 156.75L259.7 156.75L260.3 156.75L261.0 156.75L261.7 156.75L262.4 156.75L263.0 156.75L263.7 156.75L264.4 156.75L265.1 156.75L265.7 156.75L266.4 156.75L267.1 156.75L267.8 156.75L268.4 156.75L269.1 156.75L269.8 156.75L270.5 156.75L271.1 156.75L271.8 156.75L272.5 156.75L273.2 156.75L273.8 156.75L274.5 156.75L275.2 156.75L275.9 156.75L276.5 156.75L277.2 156.75L277.9 156.75L278.6 156.75L279.2 156.75L279.9 156.75L280.6 156.75L281.3 156.75L281.9 156.75L282.6 156.75L283.3 156.75L284.0 156.75L284.6 156.75L285.3 156.75L286.0 156.75L286.7 156.75L287.3 156.75L288.0 156.75L288.7 156.75L289.4 156.75L290.0 156.75L290.7 156.75L291.4 156.75L292.1 156.75L292.7 156.75L293.4 156.75L294.1 156.75L294.8 156.75L295.4 156.75L296.1 156.75L296.8 156.75L297.5 156.75L298.1 156.75L298.8 156.75L299.5 156.75L300.1 156.75L300.8 156.75L301.5 156.75L302.2 156.75L302.8 156.75L303.5 156.75L304.2 156.75L304.9 156.75L305.5 156.75L306.2 156.75L306.9 156.75L307.6 156.75L308.2 156.75L308.9 156.75L309.6 156.75L310.3 156.75L310.9 156.75L311.6 156.75L312.3 156.75L313.0 156.75L313.6 156.75L314.3 156.75L315.0 156.75L315.7 156.75L316.3 156.75L317.0 156.75L317.7 156.75L318.4 156.75L319.0 156.75L319.7 156.75L320.4 156.75L321.1 156.75L321.7 156.75L322.4 156.75L323.1 156.75L323.8 156.75L324.4 156.75L325.1 156.75L325.8 156.75L326.5 156.75L327.1 156.75L327.8 156.75L328.5 156.75L329.2 156.75L329.8 156.75L330.5 156.75L331.2 156.75L331.9 156.75L332.5 156.75L333.2 156.75L333.9 156.75L334.6 156.75L335.2 156.75L335.9 156.75L336.6 156.75L337.3 156.75L337.9 156.75L338.6 156.74L339.3 156.74L340.0 156.74L340.6 156.74L341.3 156.74L342.0 156.74L342.7 156.74L343.3 156.74L344.0 156.74L344.7 156.74L345.4 156.74L346.0 156.74L346.7 156.74L347.4 156.74L348.0 156.74L348.7 156.74L349.4 156.74L350.1 156.74L350.7 156.74L351.4 156.74L352.1 156.74L352.8 156.74L353.4 156.74L354.1 156.74L354.8 156.74L355.5 156.74L356.1 156.74L356.8 156.73L357.5 156.73L358.2 156.73L358.8 156.73L359.5 156.73L360.2 156.73L360.9 156.73L361.5 156.73L362.2 156.73L362.9 156.73L363.6 156.73L364.2 156.73L364.9 156.73L365.6 156.73L366.3 156.73L366.9 156.73L367.6 156.73L368.3 156.72L369.0 156.72L369.6 156.72L370.3 156.72L371.0 156.72L371.7 156.72L372.3 156.72L373.0 156.72L373.7 156.72L374.4 156.72L375.0 156.72L375.7 156.72L376.4 156.71L377.1 156.71L377.7 156.71L378.4 156.71L379.1 156.71L379.8 156.71L380.4 156.71L381.1 156.71L381.8 156.71L382.5 156.70L383.1 156.70L383.8 156.70L384.5 156.70L385.2 156.70L385.8 156.70L386.5 156.70L387.2 156.69L387.9 156.69L388.5 156.69L389.2 156.69L389.9 156.69L390.6 156.69L391.2 156.68L391.9 156.68L392.6 156.68L393.3 156.68L393.9 156.68L394.6 156.67L395.3 156.67L395.9 156.67L396.6 156.67L397.3 156.66L398.0 156.66L398.6 156.66L399.3 156.66L400.0 156.65L400.7 156.65L401.3 156.65L402.0 156.64L402.7 156.64L403.4 156.63L404.0 156.63L404.7 156.63L405.4 156.62L406.1 156.62L406.7 156.61L407.4 156.61L408.1 156.60L408.8 156.59L409.4 156.59L410.1 156.58L410.8 156.57L411.5 156.56L412.1 156.56L412.8 156.55L413.5 156.54L414.2 156.53L414.8 156.51L415.5 156.50L416.2 156.49L416.9 156.47L417.5 156.45L418.2 156.44L418.9 156.42L419.6 156.39L420.2 156.37L420.9 156.34L421.6 156.31L422.3 156.27L422.9 156.23L423.6 156.18L424.3 156.12L425.0 156.06L425.6 155.98L426.3 155.90L427.0 155.80L427.7 155.68L428.3 155.55L429.0 155.40L429.7 155.23L430.4 155.05L431.0 154.85L431.7 154.63L432.4 154.40L433.1 154.16L433.7 153.90L434.4 153.64L435.1 153.37L435.8 153.09L436.4 152.81L437.1 152.53L437.8 152.24L438.5 151.95L439.1 151.65L439.8 151.35L440.5 151.05L441.2 150.75L441.8 150.45L442.5 150.15L443.2 149.84L443.8 149.53L444.5 149.23L445.2 148.92L445.9 148.61L446.5 148.30L447.2 147.99L447.9 147.68L448.6 147.37L449.2 147.06L449.9 146.74L450.6 146.43L451.3 146.12L451.9 145.80L452.6 145.49L453.3 145.18L454.0 144.86L454.6 144.55L455.3 144.24L456.0 143.92L456.7 143.61L457.3 143.29L458.0 142.98L458.7 142.66L459.4 142.35L460.0 142.03L460.7 141.71L461.4 141.40L462.1 141.08L462.7 140.77L463.4 140.45L464.1 140.13L464.8 139.82L465.4 139.50L466.1 139.19L466.8 138.87L467.5 138.55L468.1 138.24L468.8 137.92L469.5 137.60L470.2 137.29L470.8 136.97L471.5 136.65L472.2 136.34L472.9 136.02L473.5 135.70L474.2 135.38L474.9 135.07L475.6 134.75L476.2 134.43L476.9 134.12L477.6 133.80L478.3 133.48L478.9 133.16L479.6 132.85L480.3 132.53L481.0 132.21L481.6 131.90L482.3 131.58L483.0 131.26L483.7 130.94L484.3 130.63L485.0 130.31L485.7 129.99L486.4 129.67L487.0 129.36L487.7 129.04L488.4 128.72L489.1 128.40L489.7 128.09L490.4 127.77" stroke="#d426ff"/>
<path d="M144.5 291.09 L490.4 127.84" stroke="#ff2626" stroke-dasharray="5.75 3.3"/>
<path d="M59.3 254.47L60.0 254.47L60.6 254.47L61.3 254.47L62.0 254.47L62.7 254.47L63.3 254.47L64.0 254.47L64.7 254.47L65.4 254.47L66.0 254.47L66.7 254.47L67.4 254.47L68.1 254.47L68.7 254.47L69.4 254.47L70.1 254.47L70.8 254.47L71.4 254.47L72.1 254.47L72.8 254.47L73.5 254.47L74.1 254.47L74.8 254.47L75.5 254.47L76.2 254.47L76.8 254.47L77.5 254.47L78.2 254.47L78.9 254.47L79.5 254.47L80.2 254.47L80.9 254.47L81.6 254.47L82.2 254.47L82.9 254.47L83.6 254.47L84.3 254.47L84.9 254.47L85.6 254.47L86.3 254.47L87.0 254.47L87.6 254.47L88.3 254.47L89.0 254.47L89.7 254.47L90.3 254.47L91.0 254.47L91.7 254.47L92.4 254.47L93.0 254.47L93.7 254.47L94.4 254.47L95.1 254.47L95.7 254.47L96.4 254.47L97.1 254.47L97.8 254.47L98.4 254.47L99.1 254.47L99.8 254.47L100.5 254.47L101.1 254.47L101.8 254.47L102.5 254.47L103.2 254.47L103.8 254.46L104.5 254.46L105.2 254.46L105.9 254.46L106.5 254.46L107.2 254.46L107.9 254.46L108.5 254.46L109.2 254.46L109.9 254.46L110.6 254.46L111.2 254.46L111.9 254.46L112.6 254.46L113.3 254.46L113.9 254.46L114.6 254.46L115.3 254.46L116.0 254.46L116.6 254.46L117.3 254.46L118.0 254.46L118.7 254.46L119.3 254.46L120.0 254.46L120.7 254.46L121.4 254.46L122.0 254.46L122.7 254.46L123.4 254.46L124.1 254.46L124.7 254.46L125.4 254.46L126.1 254.46L126.8 254.46L127.4 254.46L128.1 254.46L128.8 254.46L129.5 254.46L130.1 254.45L130.8 254.45L131.5 254.45L132.2 254.45L132.8 254.45L133.5 254.45L134.2 254.45L134.9 254.45L135.5 254.45L136.2 254.45L136.9 254.45L137.6 254.45L138.2 254.45L138.9 254.45L139.6 254.45L140.3 254.45L140.9 254.45L141.6 254.45L142.3 254.45L143.0 254.45L143.6 254.45L144.3 254.45L145.0 254.45L145.7 254.45L146.3 254.45L147.0 254.44L147.7 254.44L148.4 254.44L149.0 254.44L149.7 254.44L150.4 254.44L151.1 254.44L151.7 254.44L152.4 254.44L153.1 254.44L153.8 254.44L154.4 254.44L155.1 254.44L155.8 254.44L156.4 254.44L157.1 254.44L157.8 254.44L158.5 254.43L159.1 254.43L159.8 254.43L160.5 254.43L161.2 254.43L161.8 254.43L162.5 254.43L163.2 254.43L163.9 254.43L164.5 254.43L165.2 254.43L165.9 254.43L166.6 254.43L167.2 254.42L167.9 254.42L168.6 254.42L169.3 254.42L169.9 254.42L170.6 254.42L171.3 254.42L172.0 254.42L172.6 254.42L173.3 254.42L174.0 254.41L174.7 254.41L175.3 254.41L176.0 254.41L176.7 254.41L177.4 254.41L178.0 254.41L178.7 254.40L179.4 254.40L180.1 254.40L180.7 254.40L181.4 254.40L182.1 254.40L182.8 254.39L183.4 254.39L184.1 254.39L184.8 254.39L185.5 254.39L186.1 254.39L186.8 254.38L187.5 254.38L188.2 254.38L188.8 254.38L189.5 254.37L190.2 254.37L190.9 254.37L191.5 254.37L192.2 254.36L192.9 254.36L193.6 254.36L194.2 254.35L194.9 254.35L195.6 254.34L196.3 254.34L196.9 254.34L197.6 254.33L198.3 254.33L199.0 254.32L199.6 254.32L200.3 254.31L201.0 254.31L201.7 254.30L202.3 254.29L203.0 254.29L203.7 254.28L204.3 254.27L205.0 254.26L205.7 254.25L206.4 254.24L207.0 254.23L207.7 254.22L208.4 254.21L209.1 254.19L209.7 254.18L210.4 254.16L211.1 254.14L211.8 254.12L212.4 254.10L213.1 254.08L213.8 254.05L214.5 254.02L215.1 253.98L215.8 253.94L216.5 253.89L217.2 253.84L217.8 253.77L218.5 253.70L219.2 253.62L219.9 253.52L220.5 253.41L221.2 253.28L221.9 253.13L222.6 252.97L223.2 252.79L223.9 252.59L224.6 252.37L225.3 252.14L225.9 251.90L226.6 251.65L227.3 251.39L228.0 251.12L228.6 250.84L229.3 250.56L230.0 250.28L230.7 249.99L231.3 249.70L232.0 249.40L232.7 249.11L233.4 248.81L234.0 248.51L234.7 248.20L235.4 247.90L236.1 247.59L236.7 247.29L237.4 246.98L238.1 246.67L238.8 246.36L239.4 246.05L240.1 245.74L240.8 245.43L241.5 245.12L242.1 244.81L242.8 244.50L243.5 244.19L244.2 243.87L244.8 243.56L245.5 243.25L246.2 242.93L246.9 242.62L247.5 242.30L248.2 241.99L248.9 241.68L249.6 241.36L250.2 241.05L250.9 240.73L251.6 240.42L252.2 240.10L252.9 239.78L253.6 239.47L254.3 239.15L254.9 238.84L255.6 238.52L256.3 238.21L257.0 237.89L257.6 237.57L258.3 237.26L259.0 236.94L259.7 236.62L260.3 236.31L261.0 235.99L261.7 235.67L262.4 235.36L263.0 235.04L263.7 234.72L264.4 234.41L265.1 234.09L265.7 233.77L266.4 233.46L267.1 233.14L267.8 232.82L268.4 232.51L269.1 232.19L269.8 231.87L270.5 231.55L271.1 231.24L271.8 230.92L272.5 230.60L273.2 230.28L273.8 229.97L274.5 229.65L275.2 229.33L275.9 229.02L276.5 228.70L277.2 228.38L277.9 228.06L278.6 227.75L279.2 227.43L279.9 227.11L280.6 226.79L281.3 226.47L281.9 226.16L282.6 225.84L283.3 225.52L284.0 225.20L284.6 224.89L285.3 224.57L286.0 224.25L286.7 223.93L287.3 223.62L288.0 223.30L288.7 222.98L289.4 222.66L290.0 222.34L290.7 222.03L291.4 221.71L292.1 221.39L292.7 221.07L293.4 220.76L294.1 220.44L294.8 220.12L295.4 219.80L296.1 219.48L296.8 219.17L297.5 218.85L298.1 218.53L298.8 218.21L299.5 217.89L300.1 217.58L300.8 217.26L301.5 216.94L302.2 216.62L302.8 216.30L303.5 215.99L304.2 215.67L304.9 215.35L305.5 215.03L306.2 214.71L306.9 214.40L307.6 214.08L308.2 213.76L308.9 213.44L309.6 213.12L310.3 212.81L310.9 212.49L311.6 212.17L312.3 211.85L313.0 211.53L313.6 211.22L314.3 210.90L315.0 210.58L315.7 210.26L316.3 209.94L317.0 209.63L317.7 209.31L318.4 208.99L319.0 208.67L319.7 208.35L320.4 208.03L321.1 207.72L321.7 207.40L322.4 207.08L323.1 206.76L323.8 206.44L324.4 206.13L325.1 205.81L325.8 205.49L326.5 205.17L327.1 204.85L327.8 204.54L328.5 204.22L329.2 203.90L329.8 203.58L330.5 203.26L331.2 202.94L331.9 202.63L332.5 202.31L333.2 201.99L333.9 201.67L334.6 201.35L335.2 201.04L335.9 200.72L336.6 200.40L337.3 200.08L337.9 199.76L338.6 199.44L339.3 199.13L340.0 198.81L340.6 198.49L341.3 198.17L342.0 197.85L342.7 197.54L343.3 197.22L344.0 196.90L344.7 196.58L345.4 196.26L346.0 195.94L346.7 195.63L347.4 195.31L348.0 194.99L348.7 194.67L349.4 194.35L350.1 194.03L350.7 193.72L351.4 193.40L352.1 193.08L352.8 192.76L353.4 192.44L354.1 192.13L354.8 191.81L355.5 191.49L356.1 191.17L356.8 190.85L357.5 190.53L358.2 190.22L358.8 189.90L359.5 189.58L360.2 189.26L360.9 188.94L361.5 188.62L362.2 188.31L362.9 187.99L363.6 187.67L364.2 187.35L364.9 187.03L365.6 186.71L366.3 186.40L366.9 186.08L367.6 185.76L368.3 185.44L369.0 185.12L369.6 184.81L370.3 184.49L371.0 184.17L371.7 183.85L372.3 183.53L373.0 183.21L373.7 182.90L374.4 182.58L375.0 182.26L375.7 181.94L376.4 181.62L377.1 181.30L377.7 180.99L378.4 180.67L379.1 180.35L379.8 180.03L380.4 179.71L381.1 179.39L381.8 179.08L382.5 178.76L383.1 178.44L383.8 178.12L384.5 177.80L385.2 177.48L385.8 177.17L386.5 176.85L387.2 176.53L387.9 176.21L388.5 175.89L389.2 175.57L389.9 175.26L390.6 174.94L391.2 174.62L391.9 174.30L392.6 173.98L393.3 173.66L393.9 173.35L394.6 173.03L395.3 172.71L395.9 172.39L396.6 172.07L397.3 171.75L398.0 171.44L398.6 171.12L399.3 170.80L400.0 170.48L400.7 170.16L401.3 169.85L402.0 169.53L402.7 169.21L403.4 168.89L404.0 168.57L404.7 168.25L405.4 167.94L406.1 167.62L406.7 167.30L407.4 166.98L408.1 166.66L408.8 166.34L409.4 166.03L410.1 165.71L410.8 165.39L411.5 165.07L412.1 164.75L412.8 164.43L413.5 164.12L414.2 163.80L414.8 163.48L415.5 163.16L416.2 162.84L416.9 162.52L417.5 162.21L418.2 161.89L418.9 161.57L419.6 161.25L420.2 160.93L420.9 160.61L421.6 160.30L422.3 159.98L422.9 159.66L423.6 159.34L424.3 159.02L425.0 158.70L425.6 158.39L426.3 158.07L427.0 157.75L427.7 157.43L428.3 157.11L429.0 156.79L429.7 156.48L430.4 156.16L431.0 155.84L431.7 155.52L432.4 155.20L433.1 154.88L433.7 154.56L434.4 154.25L435.1 153.93L435.8 153.61L436.4 153.29L437.1 152.97L437.8 152.65L438.5 152.34L439.1 152.02L439.8 151.70L440.5 151.38L441.2 151.06L441.8 150.74L442.5 150.43L443.2 150.11L443.8 149.79L444.5 149.47L445.2 149.15L445.9 148.83L446.5 148.52L447.2 148.20L447.9 147.88L448.6 147.56L449.2 147.24L449.9 146.92L450.6 146.61L451.3 146.29L451.9 145.97L452.6 145.65L453.3 145.33L454.0 145.01L454.6 144.70L455.3 144.38L456.0 144.06L456.7 143.74L457.3 143.42L458.0 143.10L458.7 142.79L459.4 142.47L460.0 142.15L460.7 141.83L461.4 141.51L462.1 141.19L462.7 140.88L463.4 140.56L464.1 140.24L464.8 139.92L465.4 139.60L466.1 139.28L466.8 138.97L467.5 138.65L468.1 138.33L468.8 138.01L469.5 137.69L470.2 137.37L470.8 137.06L471.5 136.74L472.2 136.42L472.9 136.10L473.5 135.78L474.2 135.46L474.9 135.15L475.6 134.83L476.2 134.51L476.9 134.19L477.6 133.87L478.3 133.55L478.9 133.24L479.6 132.92L480.3 132.60L481.0 132.28L481.6 131.96L482.3 131.64L483.0 131.32L483.7 131.01L484.3 130.69L485.0 130.37L485.7 130.05L486.4 129.73L487.0 129.41L487.7 129.10L488.4 128.78L489.1 128.46L489.7 128.14L490.4 127.82" stroke="#ffa826" stroke-dasharray="5.75 3.3"/>
<path d="M59.3 222.08L60.0 222.08L60.6 222.08L61.3 222.08L62.0 222.08L62.7 222.08L63.3 222.08L64.0 222.08L64.7 222.08L65.4 222.08L66.0 222.08L66.7 222.08L67.4 222.08L68.1 222.08L68.7 222.08L69.4 222.08L70.1 222.08L70.8 222.08L71.4 222.08L72.1 222.08L72.8 222.08L73.5 222.08L74.1 222.08L74.8 222.08L75.5 222.08L76.2 222.08L76.8 222.08L77.5 222.08L78.2 222.08L78.9 222.08L79.5 222.08L80.2 222.08L80.9 222.08L81.6 222.08L82.2 222.08L82.9 222.08L83.6 222.08L84.3 222.08L84.9 222.08L85.6 222.08L86.3 222.08L87.0 222.08L87.6 222.08L88.3 222.08L89.0 222.08L89.7 222.08L90.3 222.08L91.0 222.08L91.7 222.08L92.4 222.08L93.0 222.08L93.7 222.08L94.4 222.08L95.1 222.08L95.7 222.08L96.4 222.08L97.1 222.08L97.8 222.08L98.4 222.08L99.1 222.08L99.8 222.08L100.5 222.08L101.1 222.08L101.8 222.08L102.5 222.08L103.2 222.08L103.8 222.08L104.5 222.08L105.2 222.08L105.9 222.08L106.5 222.08L107.2 222.08L107.9 222.08L108.5 222.08L109.2 222.08L109.9 222.08L110.6 222.08L111.2 222.08L111.9 222.08L112.6 222.08L113.3 222.08L113.9 222.08L114.6 222.08L115.3 222.08L116.0 222.08L116.6 222.08L117.3 222.08L118.0 222.08L118.7 222.08L119.3 222.08L120.0 222.08L120.7 222.08L121.4 222.08L122.0 222.08L122.7 222.08L123.4 222.08L124.1 222.08L124.7 222.07L125.4 222.07L126.1 222.07L126.8 222.07L127.4 222.07L128.1 222.07L128.8 222.07L129.5 222.07L130.1 222.07L130.8 222.07L131.5 222.07L132.2 222.07L132.8 222.07L133.5 222.07L134.2 222.07L134.9 222.07L135.5 222.07L136.2 222.07L136.9 222.07L137.6 222.07L138.2 222.07L138.9 222.07L139.6 222.07L140.3 222.07L140.9 222.07L141.6 222.07L142.3 222.07L143.0 222.07L143.6 222.07L144.3 222.07L145.0 222.07L145.7 222.07L146.3 222.07L147.0 222.07L147.7 222.07L148.4 222.07L149.0 222.07L149.7 222.07L150.4 222.07L151.1 222.07L151.7 222.07L152.4 222.07L153.1 222.07L153.8 222.07L154.4 222.07L155.1 222.07L155.8 222.07L156.4 222.07L157.1 222.07L157.8 222.07L158.5 222.07L159.1 222.07L159.8 222.07L160.5 222.07L161.2 222.07L161.8 222.07L162.5 222.07L163.2 222.07L163.9 222.07L164.5 222.07L165.2 222.07L165.9 222.07L166.6 222.07L167.2 222.07L167.9 222.07L168.6 222.07L169.3 222.07L169.9 222.07L170.6 222.07L171.3 222.07L172.0 222.07L172.6 222.06L173.3 222.06L174.0 222.06L174.7 222.06L175.3 222.06L176.0 222.06L176.7 222.06L177.4 222.06L178.0 222.06L178.7 222.06L179.4 222.06L180.1 222.06L180.7 222.06L181.4 222.06L182.1 222.06L182.8 222.06L183.4 222.06L184.1 222.06L184.8 222.06L185.5 222.06L186.1 222.06L186.8 222.06L187.5 222.06L188.2 222.06L188.8 222.06L189.5 222.06L190.2 222.06L190.9 222.06L191.5 222.06L192.2 222.06L192.9 222.06L193.6 222.06L194.2 222.06L194.9 222.06L195.6 222.06L196.3 222.06L196.9 222.06L197.6 222.06L198.3 222.06L199.0 222.05L199.6 222.05L200.3 222.05L201.0 222.05L201.7 222.05L202.3 222.05L203.0 222.05L203.7 222.05L204.3 222.05L205.0 222.05L205.7 222.05L206.4 222.05L207.0 222.05L207.7 222.05L208.4 222.05L209.1 222.05L209.7 222.05L210.4 222.05L211.1 222.05L211.8 222.05L212.4 222.05L213.1 222.05L213.8 222.05L214.5 222.05L215.1 222.05L215.8 222.04L216.5 222.04L217.2 222.04L217.8 222.04L218.5 222.04L219.2 222.04L219.9 222.04L220.5 222.04L221.2 222.04L221.9 222.04L222.6 222.04L223.2 222.04L223.9 222.04L224.6 222.04L225.3 222.04L225.9 222.04L226.6 222.04L227.3 222.03L228.0 222.03L228.6 222.03L229.3 222.03L230.0 222.03L230.7 222.03L231.3 222.03L232.0 222.03L232.7 222.03L233.4 222.03L234.0 222.03L234.7 222.03L235.4 222.03L236.1 222.02L236.7 222.02L237.4 222.02L238.1 222.02L238.8 222.02L239.4 222.02L240.1 222.02L240.8 222.02L241.5 222.02L242.1 222.01L242.8 222.01L243.5 222.01L244.2 222.01L244.8 222.01L245.5 222.01L246.2 222.01L246.9 222.01L247.5 222.00L248.2 222.00L248.9 222.00L249.6 222.00L250.2 222.00L250.9 222.00L251.6 221.99L252.2 221.99L252.9 221.99L253.6 221.99L254.3 221.99L254.9 221.98L255.6 221.98L256.3 221.98L257.0 221.98L257.6 221.98L258.3 221.97L259.0 221.97L259.7 221.97L260.3 221.96L261.0 221.96L261.7 221.96L262.4 221.95L263.0 221.95L263.7 221.95L264.4 221.94L265.1 221.94L265.7 221.94L266.4 221.93L267.1 221.93L267.8 221.92L268.4 221.92L269.1 221.91L269.8 221.91L270.5 221.90L271.1 221.89L271.8 221.89L272.5 221.88L273.2 221.87L273.8 221.86L274.5 221.85L275.2 221.84L275.9 221.83L276.5 221.82L277.2 221.81L277.9 221.79L278.6 221.78L279.2 221.76L279.9 221.74L280.6 221.72L281.3 221.70L281.9 221.67L282.6 221.64L283.3 221.61L284.0 221.57L284.6 221.53L285.3 221.48L286.0 221.42L286.7 221.36L287.3 221.28L288.0 221.19L288.7 221.09L289.4 220.98L290.0 220.84L290.7 220.69L291.4 220.52L292.1 220.34L292.7 220.13L293.4 219.92L294.1 219.68L294.8 219.44L295.4 219.19L296.1 218.92L296.8 218.65L297.5 218.38L298.1 218.10L298.8 217.81L299.5 217.52L300.1 217.23L300.8 216.93L301.5 216.63L302.2 216.33L302.8 216.03L303.5 215.73L304.2 215.43L304.9 215.12L305.5 214.81L306.2 214.51L306.9 214.20L307.6 213.89L308.2 213.58L308.9 213.27L309.6 212.96L310.3 212.65L310.9 212.33L311.6 212.02L312.3 211.71L313.0 211.40L313.6 211.08L314.3 210.77L315.0 210.46L315.7 210.14L316.3 209.83L317.0 209.51L317.7 209.20L318.4 208.88L319.0 208.57L319.7 208.25L320.4 207.94L321.1 207.62L321.7 207.31L322.4 206.99L323.1 206.68L323.8 206.36L324.4 206.04L325.1 205.73L325.8 205.41L326.5 205.10L327.1 204.78L327.8 204.46L328.5 204.15L329.2 203.83L329.8 203.51L330.5 203.20L331.2 202.88L331.9 202.56L332.5 202.25L333.2 201.93L333.9 201.61L334.6 201.30L335.2 200.98L335.9 200.66L336.6 200.35L337.3 200.03L337.9 199.71L338.6 199.39L339.3 199.08L340.0 198.76L340.6 198.44L341.3 198.12L342.0 197.81L342.7 197.49L343.3 197.17L344.0 196.86L344.7 196.54L345.4 196.22L346.0 195.90L346.7 195.59L347.4 195.27L348.0 194.95L348.7 194.63L349.4 194.32L350.1 194.00L350.7 193.68L351.4 193.36L352.1 193.04L352.8 192.73L353.4 192.41L354.1 192.09L354.8 191.77L355.5 191.46L356.1 191.14L356.8 190.82L357.5 190.50L358.2 190.18L358.8 189.87L359.5 189.55L360.2 189.23L360.9 188.91L361.5 188.60L362.2 188.28L362.9 187.96L363.6 187.64L364.2 187.32L364.9 187.01L365.6 186.69L366.3 186.37L366.9 186.05L367.6 185.73L368.3 185.42L369.0 185.10L369.6 184.78L370.3 184.46L371.0 184.14L371.7 183.83L372.3 183.51L373.0 183.19L373.7 182.87L374.4 182.55L375.0 182.24L375.7 181.92L376.4 181.60L377.1 181.28L377.7 180.96L378.4 180.65L379.1 180.33L379.8 180.01L380.4 179.69L381.1 179.37L381.8 179.06L382.5 178.74L383.1 178.42L383.8 178.10L384.5 177.78L385.2 177.47L385.8 177.15L386.5 176.83L387.2 176.51L387.9 176.19L388.5 175.88L389.2 175.56L389.9 175.24L390.6 174.92L391.2 174.60L391.9 174.28L392.6 173.97L393.3 173.65L393.9 173.33L394.6 173.01L395.3 172.69L395.9 172.38L396.6 172.06L397.3 171.74L398.0 171.42L398.6 171.10L399.3 170.79L400.0 170.47L400.7 170.15L401.3 169.83L402.0 169.51L402.7 169.19L403.4 168.88L404.0 168.56L404.7 168.24L405.4 167.92L406.1 167.60L406.7 167.29L407.4 166.97L408.1 166.65L408.8 166.33L409.4 166.01L410.1 165.69L410.8 165.38L411.5 165.06L412.1 164.74L412.8 164.42L413.5 164.10L414.2 163.78L414.8 163.47L415.5 163.15L416.2 162.83L416.9 162.51L417.5 162.19L418.2 161.88L418.9 161.56L419.6 161.24L420.2 160.92L420.9 160.60L421.6 160.28L422.3 159.97L422.9 159.65L423.6 159.33L424.3 159.01L425.0 158.69L425.6 158.37L426.3 158.06L427.0 157.74L427.7 157.42L428.3 157.10L429.0 156.78L429.7 156.47L430.4 156.15L431.0 155.83L431.7 155.51L432.4 155.19L433.1 154.87L433.7 154.56L434.4 154.24L435.1 153.92L435.8 153.60L436.4 153.28L437.1 152.96L437.8 152.65L438.5 152.33L439.1 152.01L439.8 151.69L440.5 151.37L441.2 151.05L441.8 150.74L442.5 150.42L443.2 150.10L443.8 149.78L444.5 149.46L445.2 149.14L445.9 148.83L446.5 148.51L447.2 148.19L447.9 147.87L448.6 147.55L449.2 147.24L449.9 146.92L450.6 146.60L451.3 146.28L451.9 145.96L452.6 145.64L453.3 145.33L454.0 145.01L454.6 144.69L455.3 144.37L456.0 144.05L456.7 143.73L457.3 143.42L458.0 143.10L458.7 142.78L459.4 142.46L460.0 142.14L460.7 141.82L461.4 141.51L462.1 141.19L462.7 140.87L463.4 140.55L464.1 140.23L464.8 139.91L465.4 139.60L466.1 139.28L466.8 138.96L467.5 138.64L468.1 138.32L468.8 138.00L469.5 137.69L470.2 137.37L470.8 137.05L471.5 136.73L472.2 136.41L472.9 136.09L473.5 135.78L474.2 135.46L474.9 135.14L475.6 134.82L476.2 134.50L476.9 134.18L477.6 133.87L478.3 133.55L478.9 133.23L479.6 132.91L480.3 132.59L481.0 132.27L481.6 131.96L482.3 131.64L483.0 131.32L483.7 131.00L484.3 130.68L485.0 130.36L485.7 130.05L486.4 129.73L487.0 129.41L487.7 129.09L488.4 128.77L489.1 128.45L489.7 128.14L490.4 127.82" stroke="#26ff7d" stroke-dasharray="5.75 3.3"/>
<path d="M59.3 189.49L60.0 189.49L60.6 189.49L61.3 189.49L62.0 189.49L62.7 189.49L63.3 189.49L64.0 189.49L64.7 189.49L65.4 189.49L66.0 189.49L66.7 189.49L67.4 189.49L68.1 189.49L68.7 189.49L69.4 189.49L70.1 189.49L70.8 189.49L71.4 189.49L72.1 189.49L72.8 189.49L73.5 189.49L74.1 189.49L74.8 189.49L75.5 189.49L76.2 189.49L76.8 189.49L77.5 189.49L78.2 189.49L78.9 189.49L79.5 189.49L80.2 189.49L80.9 189.49L81.6 189.49L82.2 189.49L82.9 189.49L83.6 189.48L84.3 189.48L84.9 189.48L85.6 189.48L86.3 189.48L87.0 189.48L87.6 189.48L88.3 189.48L89.0 189.48L89.7 189.48L90.3 189.48L91.0 189.48L91.7 189.48L92.4 189.48L93.0 189.48L93.7 189.48L94.4 189.48L95.1 189.48L95.7 189.48L96.4 189.48L97.1 189.48L97.8 189.48L98.4 189.48L99.1 189.48L99.8 189.48L100.5 189.48L101.1 189.48L101.8 189.48L102.5 189.48L103.2 189.48L103.8 189.48L104.5 189.48L105.2 189.48L105.9 189.48L106.5 189.48L107.2 189.48L107.9 189.48L108.5 189.48L109.2 189.48L109.9 189.48L110.6 189.48L111.2 189.48L111.9 189.48L112.6 189.48L113.3 189.48L113.9 189.48L114.6 189.48L115.3 189.48L116.0 189.48L116.6 189.48L117.3 189.48L118.0 189.48L118.7 189.48L119.3 189.48L120.0 189.48L120.7 189.48L121.4 189.48L122.0 189.48L122.7 189.48L123.4 189.48L124.1 189.48L124.7 189.48L125.4 189.48L126.1 189.48L126.8 189.48L127.4 189.48L128.1 189.48L128.8 189.48L129.5 189.48L130.1 189.48L130.8 189.48L131.5 189.48L132.2 189.48L132.8 189.48L133.5 189.48L134.2 189.48L134.9 189.48L135.5 189.48L136.2 189.48L136.9 189.48L137.6 189.48L138.2 189.48L138.9 189.48L139.6 189.48L140.3 189.48L140.9 189.48L141.6 189.48L142.3 189.48L143.0 189.48L143.6 189.48L144.3 189.48L145.0 189.48L145.7 189.48L146.3 189.48L147.0 189.48L147.7 189.48L148.4 189.48L149.0 189.48L149.7 189.48L150.4 189.48L151.1 189.48L151.7 189.48L152.4 189.48L153.1 189.48L153.8 189.48L154.4 189.48L155.1 189.48L155.8 189.48L156.4 189.48L157.1 189.48L157.8 189.48L158.5 189.48L159.1 189.48L159.8 189.48L160.5 189.48L161.2 189.48L161.8 189.48L162.5 189.48L163.2 189.48L163.9 189.48L164.5 189.48L165.2 189.48L165.9 189.48L166.6 189.48L167.2 189.48L167.9 189.48L168.6 189.48L169.3 189.48L169.9 189.48L170.6 189.48L171.3 189.48L172.0 189.48L172.6 189.48L173.3 189.48L174.0 189.48L174.7 189.48L175.3 189.48L176.0 189.48L176.7 189.48L177.4 189.48L178.0 189.48L178.7 189.48L179.4 189.48L180.1 189.48L180.7 189.48L181.4 189.48L182.1 189.48L182.8 189.48L183.4 189.48L184.1 189.48L184.8 189.48L185.5 189.48L186.1 189.48L186.8 189.48L187.5 189.48L188.2 189.48L188.8 189.48L189.5 189.48L190.2 189.48L190.9 189.48L191.5 189.48L192.2 189.48L192.9 189.48L193.6 189.48L194.2 189.47L194.9 189.47L195.6 189.47L196.3 189.47L196.9 189.47L197.6 189.47L198.3 189.47L199.0 189.47L199.6 189.47L200.3 189.47L201.0 189.47L201.7 189.47L202.3 189.47L203.0 189.47L203.7 189.47L204.3 189.47L205.0 189.47L205.7 189.47L206.4 189.47L207.0 189.47L207.7 189.47L208.4 189.47L209.1 189.47L209.7 189.47L210.4 189.47L211.1 189.47L211.8 189.47L212.4 189.47L213.1 189.47L213.8 189.47L214.5 189.47L215.1 189.47L215.8 189.47L216.5 189.47L217.2 189.47L217.8 189.47L218.5 189.47L219.2 189.47L219.9 189.47L220.5 189.47L221.2 189.47L221.9 189.47L222.6 189.47L223.2 189.47L223.9 189.47L224.6 189.47L225.3 189.47L225.9 189.47L226.6 189.47L227.3 189.47L228.0 189.47L228.6 189.47L229.3 189.47L230.0 189.47L230.7 189.47L231.3 189.47L232.0 189.47L232.7 189.47L233.4 189.47L234.0 189.47L234.7 189.47L235.4 189.47L236.1 189.47L236.7 189.47L237.4 189.47L238.1 189.47L238.8 189.47L239.4 189.47L240.1 189.47L240.8 189.47L241.5 189.46L242.1 189.46L242.8 189.46L243.5 189.46L244.2 189.46L244.8 189.46L245.5 189.46L246.2 189.46L246.9 189.46L247.5 189.46L248.2 189.46L248.9 189.46L249.6 189.46L250.2 189.46L250.9 189.46L251.6 189.46L252.2 189.46L252.9 189.46L253.6 189.46L254.3 189.46L254.9 189.46L255.6 189.46L256.3 189.46L257.0 189.46L257.6 189.46L258.3 189.46L259.0 189.46L259.7 189.46L260.3 189.46L261.0 189.46L261.7 189.46L262.4 189.46L263.0 189.46L263.7 189.46L264.4 189.46L265.1 189.46L265.7 189.46L266.4 189.46L267.1 189.46L267.8 189.45L268.4 189.45L269.1 189.45L269.8 189.45L270.5 189.45L271.1 189.45L271.8 189.45L272.5 189.45L273.2 189.45L273.8 189.45L274.5 189.45L275.2 189.45L275.9 189.45L276.5 189.45L277.2 189.45L277.9 189.45L278.6 189.45L279.2 189.45L279.9 189.45L280.6 189.45L281.3 189.45L281.9 189.45L282.6 189.45L283.3 189.45L284.0 189.45L284.6 189.44L285.3 189.44L286.0 189.44L286.7 189.44L287.3 189.44L288.0 189.44L288.7 189.44L289.4 189.44L290.0 189.44L290.7 189.44L291.4 189.44L292.1 189.44L292.7 189.44L293.4 189.44L294.1 189.44L294.8 189.44L295.4 189.44L296.1 189.43L296.8 189.43L297.5 189.43L298.1 189.43L298.8 189.43L299.5 189.43L300.1 189.43L300.8 189.43L301.5 189.43L302.2 189.43L302.8 189.43L303.5 189.43L304.2 189.43L304.9 189.42L305.5 189.42L306.2 189.42L306.9 189.42L307.6 189.42L308.2 189.42L308.9 189.42L309.6 189.42L310.3 189.42L310.9 189.42L311.6 189.41L312.3 189.41L313.0 189.41L313.6 189.41L314.3 189.41L315.0 189.41L315.7 189.41L316.3 189.40L317.0 189.40L317.7 189.40L318.4 189.40L319.0 189.40L319.7 189.40L320.4 189.40L321.1 189.39L321.7 189.39L322.4 189.39L323.1 189.39L323.8 189.39L324.4 189.38L325.1 189.38L325.8 189.38L326.5 189.38L327.1 189.37L327.8 189.37L328.5 189.37L329.2 189.37L329.8 189.36L330.5 189.36L331.2 189.36L331.9 189.35L332.5 189.35L333.2 189.35L333.9 189.34L334.6 189.34L335.2 189.33L335.9 189.33L336.6 189.32L337.3 189.32L337.9 189.31L338.6 189.31L339.3 189.30L340.0 189.29L340.6 189.29L341.3 189.28L342.0 189.27L342.7 189.26L343.3 189.25L344.0 189.25L344.7 189.23L345.4 189.22L346.0 189.21L346.7 189.20L347.4 189.18L348.0 189.17L348.7 189.15L349.4 189.13L350.1 189.11L350.7 189.08L351.4 189.05L352.1 189.02L352.8 188.99L353.4 188.94L354.1 188.90L354.8 188.85L355.5 188.78L356.1 188.71L356.8 188.63L357.5 188.53L358.2 188.42L358.8 188.30L359.5 188.15L360.2 187.99L360.9 187.81L361.5 187.61L362.2 187.40L362.9 187.17L363.6 186.93L364.2 186.68L364.9 186.42L365.6 186.16L366.3 185.88L366.9 185.60L367.6 185.32L368.3 185.03L369.0 184.74L369.6 184.45L370.3 184.15L371.0 183.85L371.7 183.55L372.3 183.25L373.0 182.94L373.7 182.64L374.4 182.33L375.0 182.02L375.7 181.72L376.4 181.41L377.1 181.10L377.7 180.79L378.4 180.48L379.1 180.17L379.8 179.85L380.4 179.54L381.1 179.23L381.8 178.92L382.5 178.60L383.1 178.29L383.8 177.98L384.5 177.66L385.2 177.35L385.8 177.03L386.5 176.72L387.2 176.41L387.9 176.09L388.5 175.78L389.2 175.46L389.9 175.14L390.6 174.83L391.2 174.51L391.9 174.20L392.6 173.88L393.3 173.57L393.9 173.25L394.6 172.93L395.3 172.62L395.9 172.30L396.6 171.99L397.3 171.67L398.0 171.35L398.6 171.04L399.3 170.72L400.0 170.40L400.7 170.09L401.3 169.77L402.0 169.45L402.7 169.14L403.4 168.82L404.0 168.50L404.7 168.18L405.4 167.87L406.1 167.55L406.7 167.23L407.4 166.92L408.1 166.60L408.8 166.28L409.4 165.96L410.1 165.65L410.8 165.33L411.5 165.01L412.1 164.69L412.8 164.38L413.5 164.06L414.2 163.74L414.8 163.42L415.5 163.11L416.2 162.79L416.9 162.47L417.5 162.15L418.2 161.84L418.9 161.52L419.6 161.20L420.2 160.88L420.9 160.57L421.6 160.25L422.3 159.93L422.9 159.61L423.6 159.30L424.3 158.98L425.0 158.66L425.6 158.34L426.3 158.02L427.0 157.71L427.7 157.39L428.3 157.07L429.0 156.75L429.7 156.44L430.4 156.12L431.0 155.80L431.7 155.48L432.4 155.16L433.1 154.85L433.7 154.53L434.4 154.21L435.1 153.89L435.8 153.57L436.4 153.26L437.1 152.94L437.8 152.62L438.5 152.30L439.1 151.99L439.8 151.67L440.5 151.35L441.2 151.03L441.8 150.71L442.5 150.40L443.2 150.08L443.8 149.76L444.5 149.44L445.2 149.12L445.9 148.81L446.5 148.49L447.2 148.17L447.9 147.85L448.6 147.53L449.2 147.21L449.9 146.90L450.6 146.58L451.3 146.26L451.9 145.94L452.6 145.62L453.3 145.31L454.0 144.99L454.6 144.67L455.3 144.35L456.0 144.03L456.7 143.72L457.3 143.40L458.0 143.08L458.7 142.76L459.4 142.44L460.0 142.13L460.7 141.81L461.4 141.49L462.1 141.17L462.7 140.85L463.4 140.53L464.1 140.22L464.8 139.90L465.4 139.58L466.1 139.26L466.8 138.94L467.5 138.63L468.1 138.31L468.8 137.99L469.5 137.67L470.2 137.35L470.8 137.03L471.5 136.72L472.2 136.40L472.9 136.08L473.5 135.76L474.2 135.44L474.9 135.13L475.6 134.81L476.2 134.49L476.9 134.17L477.6 133.85L478.3 133.53L478.9 133.22L479.6 132.90L480.3 132.58L481.0 132.26L481.6 131.94L482.3 131.63L483.0 131.31L483.7 130.99L484.3 130.67L485.0 130.35L485.7 130.03L486.4 129.72L487.0 129.40L487.7 129.08L488.4 128.76L489.1 128.44L489.7 128.12L490.4 127.81" stroke="#267dff" stroke-dasharray="5.75 3.3"/>
<path d="M59.3 156.79L60.0 156.79L60.6 156.79L61.3 156.79L62.0 156.79L62.7 156.79L63.3 156.79L64.0 156.79L64.7 156.79L65.4 156.79L66.0 156.79L66.7 156.79L67.4 156.79L68.1 156.79L68.7 156.79L69.4 156.79L70.1 156.79L70.8 156.79L71.4 156.79L72.1 156.79L72.8 156.79L73.5 156.79L74.1 156.79L74.8 156.79L75.5 156.79L76.2 156.79L76.8 156.79L77.5 156.79L78.2 156.79L78.9 156.79L79.5 156.79L80.2 156.79L80.9 156.79L81.6 156.79L82.2 156.79L82.9 156.79L83.6 156.79L84.3 156.79L84.9 156.79L85.6 156.79L86.3 156.79L87.0 156.79L87.6 156.79L88.3 156.79L89.0 156.79L89.7 156.79L90.3 156.79L91.0 156.79L91.7 156.79L92.4 156.79L93.0 156.79L93.7 156.79L94.4 156.79L95.1 156.79L95.7 156.79L96.4 156.79L97.1 156.79L97.8 156.79L98.4 156.79L99.1 156.79L99.8 156.79L100.5 156.79L101.1 156.79L101.8 156.79L102.5 156.79L103.2 156.79L103.8 156.79L104.5 156.79L105.2 156.79L105.9 156.79L106.5 156.79L107.2 156.79L107.9 156.79L108.5 156.79L109.2 156.79L109.9 156.79L110.6 156.79L111.2 156.79L111.9 156.79L112.6 156.79L113.3 156.79L113.9 156.79L114.6 156.79L115.3 156.79L116.0 156.79L116.6 156.79L117.3 156.79L118.0 156.79L118.7 156.79L119.3 156.79L120.0 156.79L120.7 156.79L121.4 156.79L122.0 156.79L122.7 156.79L123.4 156.79L124.1 156.79L124.7 156.79L125.4 156.79L126.1 156.79L126.8 156.79L127.4 156.79L128.1 156.79L128.8 156.79L129.5 156.79L130.1 156.79L130.8 156.79L131.5 156.79L132.2 156.79L132.8 156.79L133.5 156.79L134.2 156.79L134.9 156.79L135.5 156.79L136.2 156.79L136.9 156.79L137.6 156.79L138.2 156.79L138.9 156.79L139.6 156.79L140.3 156.79L140.9 156.79L141.6 156.79L142.3 156.79L143.0 156.79L143.6 156.79L144.3 156.79L145.0 156.79L145.7 156.79L146.3 156.79L147.0 156.79L147.7 156.79L148.4 156.79L149.0 156.79L149.7 156.79L150.4 156.79L151.1 156.79L151.7 156.79L152.4 156.78L153.1 156.78L153.8 156.78L154.4 156.78L155.1 156.78L155.8 156.78L156.4 156.78L157.1 156.78L157.8 156.78L158.5 156.78L159.1 156.78L159.8 156.78L160.5 156.78L161.2 156.78L161.8 156.78L162.5 156.78L163.2 156.78L163.9 156.78L164.5 156.78L165.2 156.78L165.9 156.78L166.6 156.78L167.2 156.78L167.9 156.78L168.6 156.78L169.3 156.78L169.9 156.78L170.6 156.78L171.3 156.78L172.0 156.78L172.6 156.78L173.3 156.78L174.0 156.78L174.7 156.78L175.3 156.78L176.0 156.78L176.7 156.78L177.4 156.78L178.0 156.78L178.7 156.78L179.4 156.78L180.1 156.78L180.7 156.78L181.4 156.78L182.1 156.78L182.8 156.78L183.4 156.78L184.1 156.78L184.8 156.78L185.5 156.78L186.1 156.78L186.8 156.78L187.5 156.78L188.2 156.78L188.8 156.78L189.5 156.78L190.2 156.78L190.9 156.78L191.5 156.78L192.2 156.78L192.9 156.78L193.6 156.78L194.2 156.78L194.9 156.78L195.6 156.78L196.3 156.78L196.9 156.78L197.6 156.78L198.3 156.78L199.0 156.78L199.6 156.78L200.3 156.78L201.0 156.78L201.7 156.78L202.3 156.78L203.0 156.78L203.7 156.78L204.3 156.78L205.0 156.78L205.7 156.78L206.4 156.78L207.0 156.78L207.7 156.78L208.4 156.78L209.1 156.78L209.7 156.78L210.4 156.78L211.1 156.78L211.8 156.78L212.4 156.78L213.1 156.78L213.8 156.78L214.5 156.78L215.1 156.78L215.8 156.78L216.5 156.78L217.2 156.78L217.8 156.78L218.5 156.78L219.2 156.78L219.9 156.78L220.5 156.78L221.2 156.78L221.9 156.78L222.6 156.78L223.2 156.78L223.9 156.78L224.6 156.78L225.3 156.78L225.9 156.78L226.6 156.78L227.3 156.78L228.0 156.78L228.6 156.78L229.3 156.78L230.0 156.78L230.7 156.78L231.3 156.78L232.0 156.78L232.7 156.78L233.4 156.78L234.0 156.78L234.7 156.78L235.4 156.78L236.1 156.78L236.7 156.78L237.4 156.78L238.1 156.78L238.8 156.78L239.4 156.78L240.1 156.78L240.8 156.78L241.5 156.78L242.1 156.78L242.8 156.78L243.5 156.78L244.2 156.78L244.8 156.78L245.5 156.78L246.2 156.78L246.9 156.78L247.5 156.78L248.2 156.78L248.9 156.78L249.6 156.78L250.2 156.78L250.9 156.78L251.6 156.78L252.2 156.78L252.9 156.78L253.6 156.78L254.3 156.78L254.9 156.78L255.6 156.78L256.3 156.78L257.0 156.78L257.6 156.78L258.3 156.78L259.0 156.78L259.7 156.78L260.3 156.78L261.0 156.78L261.7 156.78L262.4 156.78L263.0 156.77L263.7 156.77L264.4 156.77L265.1 156.77L265.7 156.77L266.4 156.77L267.1 156.77L267.8 156.77L268.4 156.77L269.1 156.77L269.8 156.77L270.5 156.77L271.1 156.77L271.8 156.77L272.5 156.77L273.2 156.77L273.8 156.77L274.5 156.77L275.2 156.77L275.9 156.77L276.5 156.77L277.2 156.77L277.9 156.77L278.6 156.77L279.2 156.77L279.9 156.77L280.6 156.77L281.3 156.77L281.9 156.77L282.6 156.77L283.3 156.77L284.0 156.77L284.6 156.77L285.3 156.77L286.0 156.77L286.7 156.77L287.3 156.77L288.0 156.77L288.7 156.77L289.4 156.77L290.0 156.77L290.7 156.77L291.4 156.77L292.1 156.77L292.7 156.77L293.4 156.77L294.1 156.77L294.8 156.77L295.4 156.77L296.1 156.77L296.8 156.77L297.5 156.77L298.1 156.77L298.8 156.77L299.5 156.77L300.1 156.77L300.8 156.77L301.5 156.77L302.2 156.77L302.8 156.77L303.5 156.77L304.2 156.77L304.9 156.77L305.5 156.77L306.2 156.77L306.9 156.77L307.6 156.77L308.2 156.77L308.9 156.77L309.6 156.77L310.3 156.77L310.9 156.76L311.6 156.76L312.3 156.76L313.0 156.76L313.6 156.76L314.3 156.76L315.0 156.76L315.7 156.76L316.3 156.76L317.0 156.76L317.7 156.76L318.4 156.76L319.0 156.76L319.7 156.76L320.4 156.76L321.1 156.76L321.7 156.76L322.4 156.76L323.1 156.76L323.8 156.76L324.4 156.76L325.1 156.76L325.8 156.76L326.5 156.76L327.1 156.76L327.8 156.76L328.5 156.76L329.2 156.76L329.8 156.76L330.5 156.76L331.2 156.76L331.9 156.76L332.5 156.76L333.2 156.76L333.9 156.76L334.6 156.76L335.2 156.76L335.9 156.76L336.6 156.76L337.3 156.75L337.9 156.75L338.6 156.75L339.3 156.75L340.0 156.75L340.6 156.75L341.3 156.75L342.0 156.75L342.7 156.75L343.3 156.75L344.0 156.75L344.7 156.75L345.4 156.75L346.0 156.75L346.7 156.75L347.4 156.75L348.0 156.75L348.7 156.75L349.4 156.75L350.1 156.75L350.7 156.75L351.4 156.75L352.1 156.75L352.8 156.75L353.4 156.75L354.1 156.74L354.8 156.74L355.5 156.74L356.1 156.74L356.8 156.74L357.5 156.74L358.2 156.74L358.8 156.74L359.5 156.74L360.2 156.74L360.9 156.74L361.5 156.74L362.2 156.74L362.9 156.74L363.6 156.74L364.2 156.74L364.9 156.74L365.6 156.73L366.3 156.73L366.9 156.73L367.6 156.73L368.3 156.73L369.0 156.73L369.6 156.73L370.3 156.73L371.0 156.73L371.7 156.73L372.3 156.73L373.0 156.73L373.7 156.73L374.4 156.72L375.0 156.72L375.7 156.72L376.4 156.72L377.1 156.72L377.7 156.72L378.4 156.72L379.1 156.72L379.8 156.72L380.4 156.71L381.1 156.71L381.8 156.71L382.5 156.71L383.1 156.71L383.8 156.71L384.5 156.71L385.2 156.71L385.8 156.70L386.5 156.70L387.2 156.70L387.9 156.70L388.5 156.70L389.2 156.70L389.9 156.69L390.6 156.69L391.2 156.69L391.9 156.69L392.6 156.69L393.3 156.68L393.9 156.68L394.6 156.68L395.3 156.68L395.9 156.68L396.6 156.67L397.3 156.67L398.0 156.67L398.6 156.66L399.3 156.66L400.0 156.66L400.7 156.66L401.3 156.65L402.0 156.65L402.7 156.64L403.4 156.64L404.0 156.64L404.7 156.63L405.4 156.63L406.1 156.62L406.7 156.62L407.4 156.61L408.1 156.61L408.8 156.60L409.4 156.59L410.1 156.59L410.8 156.58L411.5 156.57L412.1 156.56L412.8 156.55L413.5 156.54L414.2 156.53L414.8 156.52L415.5 156.51L416.2 156.49L416.9 156.48L417.5 156.46L418.2 156.44L418.9 156.42L419.6 156.40L420.2 156.37L420.9 156.34L421.6 156.31L422.3 156.27L422.9 156.23L423.6 156.18L424.3 156.13L425.0 156.06L425.6 155.99L426.3 155.90L427.0 155.80L427.7 155.69L428.3 155.56L429.0 155.41L429.7 155.24L430.4 155.05L431.0 154.85L431.7 154.63L432.4 154.40L433.1 154.16L433.7 153.91L434.4 153.64L435.1 153.38L435.8 153.10L436.4 152.82L437.1 152.53L437.8 152.24L438.5 151.95L439.1 151.66L439.8 151.36L440.5 151.06L441.2 150.76L441.8 150.45L442.5 150.15L443.2 149.85L443.8 149.54L444.5 149.23L445.2 148.92L445.9 148.61L446.5 148.30L447.2 147.99L447.9 147.68L448.6 147.37L449.2 147.06L449.9 146.75L450.6 146.44L451.3 146.12L451.9 145.81L452.6 145.50L453.3 145.18L454.0 144.87L454.6 144.55L455.3 144.24L456.0 143.92L456.7 143.61L457.3 143.30L458.0 142.98L458.7 142.66L459.4 142.35L460.0 142.03L460.7 141.72L461.4 141.40L462.1 141.09L462.7 140.77L463.4 140.45L464.1 140.14L464.8 139.82L465.4 139.51L466.1 139.19L466.8 138.87L467.5 138.56L468.1 138.24L468.8 137.92L469.5 137.61L470.2 137.29L470.8 136.97L471.5 136.66L472.2 136.34L472.9 136.02L473.5 135.71L474.2 135.39L474.9 135.07L475.6 134.75L476.2 134.44L476.9 134.12L477.6 133.80L478.3 133.49L478.9 133.17L479.6 132.85L480.3 132.53L481.0 132.22L481.6 131.90L482.3 131.58L483.0 131.26L483.7 130.95L484.3 130.63L485.0 130.31L485.7 129.99L486.4 129.68L487.0 129.36L487.7 129.04L488.4 128.72L489.1 128.41L489.7 128.09L490.4 127.77" stroke="#d426ff" stroke-dasharray="5.75 3.3"/>
</g>
<line x1="49.00" y1="11.50" x2="49.00" y2="291.40" stroke="#aaaaaa" stroke-width="2"/>
<line x1="501.00" y1="11.50" x2="501.00" y2="291.40" stroke="#aaaaaa" stroke-width="2"/>
<line x1="48.00" y1="290.50" x2="502.00" y2="290.50" stroke="#aaaaaa" stroke-width="1.8"/>
<line x1="48.00" y1="11.50" x2="501.50" y2="11.50" stroke="#505050" stroke-width="1"/>
<line x1="59.59" y1="291.00" x2="59.59" y2="287.50" stroke="#4a4a4a" stroke-width="1"/>
<line x1="59.59" y1="11.00" x2="59.59" y2="14.50" stroke="#4a4a4a" stroke-width="1"/>
<line x1="76.82" y1="291.00" x2="76.82" y2="289.10" stroke="#4a4a4a" stroke-width="1"/>
<line x1="76.82" y1="11.00" x2="76.82" y2="12.90" stroke="#4a4a4a" stroke-width="1"/>
<line x1="94.05" y1="291.00" x2="94.05" y2="289.10" stroke="#4a4a4a" stroke-width="1"/>
<line x1="94.05" y1="11.00" x2="94.05" y2="12.90" stroke="#4a4a4a" stroke-width="1"/>
<line x1="111.29" y1="291.00" x2="111.29" y2="289.10" stroke="#4a4a4a" stroke-width="1"/>
<line x1="111.29" y1="11.00" x2="111.29" y2="12.90" stroke="#4a4a4a" stroke-width="1"/>
<line x1="128.52" y1="291.00" x2="128.52" y2="289.10" stroke="#4a4a4a" stroke-width="1"/>
<line x1="128.52" y1="11.00" x2="128.52" y2="12.90" stroke="#4a4a4a" stroke-width="1"/>
<line x1="145.75" y1="291.00" x2="145.75" y2="287.50" stroke="#4a4a4a" stroke-width="1"/>
<line x1="145.75" y1="11.00" x2="145.75" y2="14.50" stroke="#4a4a4a" stroke-width="1"/>
<line x1="162.98" y1="291.00" x2="162.98" y2="289.10" stroke="#4a4a4a" stroke-width="1"/>
<line x1="162.98" y1="11.00" x2="162.98" y2="12.90" stroke="#4a4a4a" stroke-width="1"/>
<line x1="180.21" y1="291.00" x2="180.21" y2="289.10" stroke="#4a4a4a" stroke-width="1"/>
<line x1="180.21" y1="11.00" x2="180.21" y2="12.90" stroke="#4a4a4a" stroke-width="1"/>
<line x1="197.45" y1="291.00" x2="197.45" y2="289.10" stroke="#4a4a4a" stroke-width="1"/>
<line x1="197.45" y1="11.00" x2="197.45" y2="12.90" stroke="#4a4a4a" stroke-width="1"/>
<line x1="214.68" y1="291.00" x2="214.68" y2="289.10" stroke="#4a4a4a" stroke-width="1"/>
<line x1="214.68" y1="11.00" x2="214.68" y2="12.90" stroke="#4a4a4a" stroke-width="1"/>
<line x1="231.91" y1="291.00" x2="231.91" y2="287.50" stroke="#4a4a4a" stroke-width="1"/>
<line x1="231.91" y1="11.00" x2="231.91" y2="14.50" stroke="#4a4a4a" stroke-width="1"/>
<line x1="249.14" y1="291.00" x2="249.14" y2="289.10" stroke="#4a4a4a" stroke-width="1"/>
<line x1="249.14" y1="11.00" x2="249.14" y2="12.90" stroke="#4a4a4a" stroke-width="1"/>
<line x1="266.37" y1="291.00" x2="266.37" y2="289.10" stroke="#4a4a4a" stroke-width="1"/>
<line x1="266.37" y1="11.00" x2="266.37" y2="12.90" stroke="#4a4a4a" stroke-width="1"/>
<line x1="283.61" y1="291.00" x2="283.61" y2="289.10" stroke="#4a4a4a" stroke-width="1"/>
<line x1="283.61" y1="11.00" x2="283.61" y2="12.90" stroke="#4a4a4a" stroke-width="1"/>
<line x1="300.84" y1="291.00" x2="300.84" y2="289.10" stroke="#4a4a4a" stroke-width="1"/>
<line x1="300.84" y1="11.00" x2="300.84" y2="12.90" stroke="#4a4a4a" stroke-width="1"/>
<line x1="318.07" y1="291.00" x2="318.07" y2="287.50" stroke="#4a4a4a" stroke-width="1"/>
<line x1="318.07" y1="11.00" x2="318.07" y2="14.50" stroke="#4a4a4a" stroke-width="1"/>
<line x1="335.30" y1="291.00" x2="335.30" y2="289.10" stroke="#4a4a4a" stroke-width="1"/>
<line x1="335.30" y1="11.00" x2="335.30" y2="12.90" stroke="#4a4a4a" stroke-width="1"/>
<line x1="352.53" y1="291.00" x2="352.53" y2="289.10" stroke="#4a4a4a" stroke-width="1"/>
<line x1="352.53" y1="11.00" x2="352.53" y2="12.90" stroke="#4a4a4a" stroke-width="1"/>
<line x1="369.77" y1="291.00" x2="369.77" y2="289.10" stroke="#4a4a4a" stroke-width="1"/>
<line x1="369.77" y1="11.00" x2="369.77" y2="12.90" stroke="#4a4a4a" stroke-width="1"/>
<line x1="387.00" y1="291.00" x2="387.00" y2="289.10" stroke="#4a4a4a" stroke-width="1"/>
<line x1="387.00" y1="11.00" x2="387.00" y2="12.90" stroke="#4a4a4a" stroke-width="1"/>
<line x1="404.23" y1="291.00" x2="404.23" y2="287.50" stroke="#4a4a4a" stroke-width="1"/>
<line x1="404.23" y1="11.00" x2="404.23" y2="14.50" stroke="#4a4a4a" stroke-width="1"/>
<line x1="421.46" y1="291.00" x2="421.46" y2="289.10" stroke="#4a4a4a" stroke-width="1"/>
<line x1="421.46" y1="11.00" x2="421.46" y2="12.90" stroke="#4a4a4a" stroke-width="1"/>
<line x1="438.69" y1="291.00" x2="438.69" y2="289.10" stroke="#4a4a4a" stroke-width="1"/>
<line x1="438.69" y1="11.00" x2="438.69" y2="12.90" stroke="#4a4a4a" stroke-width="1"/>
<line x1="455.93" y1="291.00" x2="455.93" y2="289.10" stroke="#4a4a4a" stroke-width="1"/>
<line x1="455.93" y1="11.00" x2="455.93" y2="12.90" stroke="#4a4a4a" stroke-width="1"/>
<line x1="473.16" y1="291.00" x2="473.16" y2="289.10" stroke="#4a4a4a" stroke-width="1"/>
<line x1="473.16" y1="11.00" x2="473.16" y2="12.90" stroke="#4a4a4a" stroke-width="1"/>
<line x1="490.39" y1="291.00" x2="490.39" y2="287.50" stroke="#4a4a4a" stroke-width="1"/>
<line x1="490.39" y1="11.00" x2="490.39" y2="14.50" stroke="#4a4a4a" stroke-width="1"/>
<line x1="48.50" y1="290.50" x2="52.00" y2="290.50" stroke="#4a4a4a" stroke-width="1"/>
<line x1="501.50" y1="290.50" x2="498.00" y2="290.50" stroke="#4a4a4a" stroke-width="1"/>
<line x1="48.50" y1="276.55" x2="50.40" y2="276.55" stroke="#4a4a4a" stroke-width="1"/>
<line x1="501.50" y1="276.55" x2="499.60" y2="276.55" stroke="#4a4a4a" stroke-width="1"/>
<line x1="48.50" y1="262.60" x2="50.40" y2="262.60" stroke="#4a4a4a" stroke-width="1"/>
<line x1="501.50" y1="262.60" x2="499.60" y2="262.60" stroke="#4a4a4a" stroke-width="1"/>
<line x1="48.50" y1="248.65" x2="50.40" y2="248.65" stroke="#4a4a4a" stroke-width="1"/>
<line x1="501.50" y1="248.65" x2="499.60" y2="248.65" stroke="#4a4a4a" stroke-width="1"/>
<line x1="48.50" y1="234.70" x2="52.00" y2="234.70" stroke="#4a4a4a" stroke-width="1"/>
<line x1="501.50" y1="234.70" x2="498.00" y2="234.70" stroke="#4a4a4a" stroke-width="1"/>
<line x1="48.50" y1="220.75" x2="50.40" y2="220.75" stroke="#4a4a4a" stroke-width="1"/>
<line x1="501.50" y1="220.75" x2="499.60" y2="220.75" stroke="#4a4a4a" stroke-width="1"/>
<line x1="48.50" y1="206.80" x2="50.40" y2="206.80" stroke="#4a4a4a" stroke-width="1"/>
<line x1="501.50" y1="206.80" x2="499.60" y2="206.80" stroke="#4a4a4a" stroke-width="1"/>
<line x1="48.50" y1="192.85" x2="50.40" y2="192.85" stroke="#4a4a4a" stroke-width="1"/>
<line x1="501.50" y1="192.85" x2="499.60" y2="192.85" stroke="#4a4a4a" stroke-width="1"/>
<line x1="48.50" y1="178.90" x2="52.00" y2="178.90" stroke="#4a4a4a" stroke-width="1"/>
<line x1="501.50" y1="178.90" x2="498.00" y2="178.90" stroke="#4a4a4a" stroke-width="1"/>
<line x1="48.50" y1="164.95" x2="50.40" y2="164.95" stroke="#4a4a4a" stroke-width="1"/>
<line x1="501.50" y1="164.95" x2="499.60" y2="164.95" stroke="#4a4a4a" stroke-width="1"/>
<line x1="48.50" y1="151.00" x2="50.40" y2="151.00" stroke="#4a4a4a" stroke-width="1"/>
<line x1="501.50" y1="151.00" x2="499.60" y2="151.00" stroke="#4a4a4a" stroke-width="1"/>
<line x1="48.50" y1="137.05" x2="50.40" y2="137.05" stroke="#4a4a4a" stroke-width="1"/>
<line x1="501.50" y1="137.05" x2="499.60" y2="137.05" stroke="#4a4a4a" stroke-width="1"/>
<line x1="48.50" y1="123.10" x2="52.00" y2="123.10" stroke="#4a4a4a" stroke-width="1"/>
<line x1="501.50" y1="123.10" x2="498.00" y2="123.10" stroke="#4a4a4a" stroke-width="1"/>
<line x1="48.50" y1="109.15" x2="50.40" y2="109.15" stroke="#4a4a4a" stroke-width="1"/>
<line x1="501.50" y1="109.15" x2="499.60" y2="109.15" stroke="#4a4a4a" stroke-width="1"/>
<line x1="48.50" y1="95.20" x2="50.40" y2="95.20" stroke="#4a4a4a" stroke-width="1"/>
<line x1="501.50" y1="95.20" x2="499.60" y2="95.20" stroke="#4a4a4a" stroke-width="1"/>
<line x1="48.50" y1="81.25" x2="50.40" y2="81.25" stroke="#4a4a4a" stroke-width="1"/>
<line x1="501.50" y1="81.25" x2="499.60" y2="81.25" stroke="#4a4a4a" stroke-width="1"/>
<line x1="48.50" y1="67.30" x2="52.00" y2="67.30" stroke="#4a4a4a" stroke-width="1"/>
<line x1="501.50" y1="67.30" x2="498.00" y2="67.30" stroke="#4a4a4a" stroke-width="1"/>
<line x1="48.50" y1="53.35" x2="50.40" y2="53.35" stroke="#4a4a4a" stroke-width="1"/>
<line x1="501.50" y1="53.35" x2="499.60" y2="53.35" stroke="#4a4a4a" stroke-width="1"/>
<line x1="48.50" y1="39.40" x2="50.40" y2="39.40" stroke="#4a4a4a" stroke-width="1"/>
<line x1="501.50" y1="39.40" x2="499.60" y2="39.40" stroke="#4a4a4a" stroke-width="1"/>
<line x1="48.50" y1="25.45" x2="50.40" y2="25.45" stroke="#4a4a4a" stroke-width="1"/>
<line x1="501.50" y1="25.45" x2="499.60" y2="25.45" stroke="#4a4a4a" stroke-width="1"/>
<line x1="48.50" y1="11.50" x2="52.00" y2="11.50" stroke="#4a4a4a" stroke-width="1"/>
<line x1="501.50" y1="11.50" x2="498.00" y2="11.50" stroke="#4a4a4a" stroke-width="1"/>
<text x="40.1" y="240.20" text-anchor="end" font-size="22">2</text>
<text x="40.1" y="184.40" text-anchor="end" font-size="22">4</text>
<text x="40.1" y="128.60" text-anchor="end" font-size="22">6</text>
<text x="40.1" y="72.80" text-anchor="end" font-size="22">8</text>
<text x="40.1" y="17.00" text-anchor="end" font-size="22">10</text>
<text x="59.59" y="313.9" text-anchor="middle" font-size="22">−5</text>
<text x="145.75" y="313.9" text-anchor="middle" font-size="22">0</text>
<text x="231.91" y="313.9" text-anchor="middle" font-size="22">5</text>
<text x="318.07" y="313.9" text-anchor="middle" font-size="22">10</text>
<text x="404.23" y="313.9" text-anchor="middle" font-size="22">15</text>
<text x="490.39" y="313.9" text-anchor="middle" font-size="22">20</text>
</svg>
</body></html>
